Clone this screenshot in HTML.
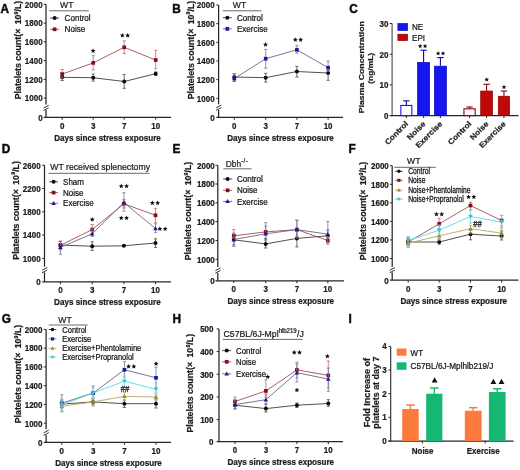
<!DOCTYPE html>
<html><head><meta charset="utf-8"><style>
html,body{margin:0;padding:0;background:#fff;overflow:hidden;}
svg{display:block;font-family:"Liberation Sans", sans-serif;}
</style></head><body>
<svg width="520" height="470" viewBox="0 0 520 470">
<rect width="520" height="470" fill="#fff"/>
<g style="will-change:transform">
<text transform="translate(0.60,13.20) scale(1,1.03)" font-size="11.8" font-weight="bold" text-anchor="start" fill="#0a0a0a" stroke="#0a0a0a" stroke-width="0.45">A</text>
<line x1="46.00" y1="4.30" x2="46.00" y2="104.50" stroke="#262626" stroke-width="1.25"/>
<line x1="46.00" y1="110.10" x2="46.00" y2="117.30" stroke="#262626" stroke-width="1.25"/>
<line x1="43.50" y1="108.10" x2="48.70" y2="105.30" stroke="#262626" stroke-width="0.95"/>
<line x1="43.50" y1="110.60" x2="48.70" y2="107.80" stroke="#262626" stroke-width="0.95"/>
<text transform="translate(42.60,120.60) scale(1,1.08)" font-size="8" font-weight="bold" text-anchor="end" fill="#1c1c1c" stroke="#1c1c1c" stroke-width="0.22">0</text>
<line x1="43.70" y1="98.10" x2="46.00" y2="98.10" stroke="#262626" stroke-width="1.0"/>
<text transform="translate(42.60,101.40) scale(1,1.08)" font-size="8" font-weight="bold" text-anchor="end" fill="#1c1c1c" stroke="#1c1c1c" stroke-width="0.22">1000</text>
<line x1="43.70" y1="79.34" x2="46.00" y2="79.34" stroke="#262626" stroke-width="1.0"/>
<text transform="translate(42.60,82.64) scale(1,1.08)" font-size="8" font-weight="bold" text-anchor="end" fill="#1c1c1c" stroke="#1c1c1c" stroke-width="0.22">1200</text>
<line x1="43.70" y1="60.58" x2="46.00" y2="60.58" stroke="#262626" stroke-width="1.0"/>
<text transform="translate(42.60,63.88) scale(1,1.08)" font-size="8" font-weight="bold" text-anchor="end" fill="#1c1c1c" stroke="#1c1c1c" stroke-width="0.22">1400</text>
<line x1="43.70" y1="41.82" x2="46.00" y2="41.82" stroke="#262626" stroke-width="1.0"/>
<text transform="translate(42.60,45.12) scale(1,1.08)" font-size="8" font-weight="bold" text-anchor="end" fill="#1c1c1c" stroke="#1c1c1c" stroke-width="0.22">1600</text>
<line x1="43.70" y1="23.06" x2="46.00" y2="23.06" stroke="#262626" stroke-width="1.0"/>
<text transform="translate(42.60,26.36) scale(1,1.08)" font-size="8" font-weight="bold" text-anchor="end" fill="#1c1c1c" stroke="#1c1c1c" stroke-width="0.22">1800</text>
<line x1="43.70" y1="4.30" x2="46.00" y2="4.30" stroke="#262626" stroke-width="1.0"/>
<text transform="translate(42.60,7.60) scale(1,1.08)" font-size="8" font-weight="bold" text-anchor="end" fill="#1c1c1c" stroke="#1c1c1c" stroke-width="0.22">2000</text>
<line x1="43.70" y1="117.30" x2="171.00" y2="117.30" stroke="#262626" stroke-width="1.25"/>
<line x1="62.20" y1="117.30" x2="62.20" y2="119.70" stroke="#262626" stroke-width="1.0"/>
<text transform="translate(62.20,128.60) scale(1,1.08)" font-size="8" font-weight="bold" text-anchor="middle" fill="#1c1c1c" stroke="#1c1c1c" stroke-width="0.22">0</text>
<line x1="93.20" y1="117.30" x2="93.20" y2="119.70" stroke="#262626" stroke-width="1.0"/>
<text transform="translate(93.20,128.60) scale(1,1.08)" font-size="8" font-weight="bold" text-anchor="middle" fill="#1c1c1c" stroke="#1c1c1c" stroke-width="0.22">3</text>
<line x1="124.20" y1="117.30" x2="124.20" y2="119.70" stroke="#262626" stroke-width="1.0"/>
<text transform="translate(124.20,128.60) scale(1,1.08)" font-size="8" font-weight="bold" text-anchor="middle" fill="#1c1c1c" stroke="#1c1c1c" stroke-width="0.22">7</text>
<line x1="155.70" y1="117.30" x2="155.70" y2="119.70" stroke="#262626" stroke-width="1.0"/>
<text transform="translate(155.70,128.60) scale(1,1.08)" font-size="8" font-weight="bold" text-anchor="middle" fill="#1c1c1c" stroke="#1c1c1c" stroke-width="0.22">10</text>
<text transform="translate(107.50,140.70) scale(1,1.08)" font-size="8.1" font-weight="bold" text-anchor="middle" fill="#1c1c1c" stroke="#1c1c1c" stroke-width="0.22">Days since stress exposure</text>
<text transform="translate(21.10,50.00) rotate(-90) scale(1.08,1)" font-size="8.15" font-weight="bold" text-anchor="middle" fill="#1c1c1c" stroke="#1c1c1c" stroke-width="0.22">Platelets count(× <tspan dx="1.8">10</tspan><tspan font-size="4.9" dy="-3.3" dx="0.2">9</tspan><tspan dy="3.3">/L)</tspan></text>
<line x1="49.30" y1="10.80" x2="88.80" y2="10.80" stroke="#6a6a6a" stroke-width="1.0"/>
<text transform="translate(66.70,7.70) scale(1,1.12)" font-size="8.6" font-weight="normal" text-anchor="middle" fill="#1a1a1a" stroke="#1a1a1a" stroke-width="0.22">WT</text>
<line x1="50.10" y1="18.10" x2="59.10" y2="18.10" stroke="#3c3c3c" stroke-width="0.9"/>
<circle cx="54.60" cy="18.10" r="2.00" fill="#0d0d0d"/>
<text transform="translate(64.60,21.20) scale(1,1.13)" font-size="8.1" font-weight="normal" text-anchor="start" fill="#151515" stroke="#151515" stroke-width="0.22">Control</text>
<line x1="50.10" y1="29.30" x2="59.10" y2="29.30" stroke="#a24c56" stroke-width="0.9"/>
<rect x="52.75" y="27.45" width="3.70" height="3.70" fill="#8a0c16"/>
<text transform="translate(64.60,32.40) scale(1,1.13)" font-size="8.1" font-weight="normal" text-anchor="start" fill="#151515" stroke="#151515" stroke-width="0.22">Noise</text>
<polyline points="62.20,77.30 93.20,77.70 124.20,81.50 155.70,73.70" fill="none" stroke="#3c3c3c" stroke-width="0.9" stroke-linejoin="round"/>
<line x1="62.20" y1="74.00" x2="62.20" y2="80.50" stroke="#4a4a4a" stroke-width="0.8"/>
<line x1="60.60" y1="74.00" x2="63.80" y2="74.00" stroke="#4a4a4a" stroke-width="0.8"/>
<line x1="60.60" y1="80.50" x2="63.80" y2="80.50" stroke="#4a4a4a" stroke-width="0.8"/>
<line x1="93.20" y1="74.10" x2="93.20" y2="81.10" stroke="#4a4a4a" stroke-width="0.8"/>
<line x1="91.60" y1="74.10" x2="94.80" y2="74.10" stroke="#4a4a4a" stroke-width="0.8"/>
<line x1="91.60" y1="81.10" x2="94.80" y2="81.10" stroke="#4a4a4a" stroke-width="0.8"/>
<line x1="124.20" y1="74.60" x2="124.20" y2="88.30" stroke="#4a4a4a" stroke-width="0.8"/>
<line x1="122.60" y1="74.60" x2="125.80" y2="74.60" stroke="#4a4a4a" stroke-width="0.8"/>
<line x1="122.60" y1="88.30" x2="125.80" y2="88.30" stroke="#4a4a4a" stroke-width="0.8"/>
<line x1="155.70" y1="72.00" x2="155.70" y2="75.50" stroke="#4a4a4a" stroke-width="0.8"/>
<line x1="154.10" y1="72.00" x2="157.30" y2="72.00" stroke="#4a4a4a" stroke-width="0.8"/>
<line x1="154.10" y1="75.50" x2="157.30" y2="75.50" stroke="#4a4a4a" stroke-width="0.8"/>
<circle cx="62.20" cy="77.30" r="2.00" fill="#0d0d0d"/>
<circle cx="93.20" cy="77.70" r="2.00" fill="#0d0d0d"/>
<circle cx="124.20" cy="81.50" r="2.00" fill="#0d0d0d"/>
<circle cx="155.70" cy="73.70" r="2.00" fill="#0d0d0d"/>
<polyline points="62.20,74.10 93.20,62.90 124.20,47.30 155.70,60.00" fill="none" stroke="#a24c56" stroke-width="0.9" stroke-linejoin="round"/>
<line x1="62.20" y1="69.50" x2="62.20" y2="78.00" stroke="#b86a74" stroke-width="0.8"/>
<line x1="60.60" y1="69.50" x2="63.80" y2="69.50" stroke="#b86a74" stroke-width="0.8"/>
<line x1="60.60" y1="78.00" x2="63.80" y2="78.00" stroke="#b86a74" stroke-width="0.8"/>
<line x1="93.20" y1="55.70" x2="93.20" y2="69.90" stroke="#b86a74" stroke-width="0.8"/>
<line x1="91.60" y1="55.70" x2="94.80" y2="55.70" stroke="#b86a74" stroke-width="0.8"/>
<line x1="91.60" y1="69.90" x2="94.80" y2="69.90" stroke="#b86a74" stroke-width="0.8"/>
<line x1="124.20" y1="40.90" x2="124.20" y2="53.60" stroke="#b86a74" stroke-width="0.8"/>
<line x1="122.60" y1="40.90" x2="125.80" y2="40.90" stroke="#b86a74" stroke-width="0.8"/>
<line x1="122.60" y1="53.60" x2="125.80" y2="53.60" stroke="#b86a74" stroke-width="0.8"/>
<line x1="155.70" y1="50.40" x2="155.70" y2="68.80" stroke="#b86a74" stroke-width="0.8"/>
<line x1="154.10" y1="50.40" x2="157.30" y2="50.40" stroke="#b86a74" stroke-width="0.8"/>
<line x1="154.10" y1="68.80" x2="157.30" y2="68.80" stroke="#b86a74" stroke-width="0.8"/>
<rect x="60.35" y="72.25" width="3.70" height="3.70" fill="#8a0c16"/>
<rect x="91.35" y="61.05" width="3.70" height="3.70" fill="#8a0c16"/>
<rect x="122.35" y="45.45" width="3.70" height="3.70" fill="#8a0c16"/>
<rect x="153.85" y="58.15" width="3.70" height="3.70" fill="#8a0c16"/>
<polygon points="93.10,48.30 93.80,49.88 95.53,50.06 94.24,51.22 94.60,52.91 93.10,52.05 91.60,52.91 91.96,51.22 90.67,50.06 92.40,49.88" fill="#111"/>
<polygon points="122.35,32.90 123.05,34.48 124.78,34.66 123.49,35.82 123.85,37.51 122.35,36.65 120.85,37.51 121.21,35.82 119.92,34.66 121.65,34.48" fill="#111"/>
<polygon points="127.65,32.90 128.35,34.48 130.08,34.66 128.79,35.82 129.15,37.51 127.65,36.65 126.15,37.51 126.51,35.82 125.22,34.66 126.95,34.48" fill="#111"/>
<text transform="translate(172.30,13.20) scale(1,1.03)" font-size="11.8" font-weight="bold" text-anchor="start" fill="#0a0a0a" stroke="#0a0a0a" stroke-width="0.45">B</text>
<line x1="218.60" y1="5.00" x2="218.60" y2="104.30" stroke="#262626" stroke-width="1.25"/>
<line x1="218.60" y1="109.90" x2="218.60" y2="117.40" stroke="#262626" stroke-width="1.25"/>
<line x1="216.10" y1="107.90" x2="221.30" y2="105.10" stroke="#262626" stroke-width="0.95"/>
<line x1="216.10" y1="110.40" x2="221.30" y2="107.60" stroke="#262626" stroke-width="0.95"/>
<text transform="translate(214.60,120.70) scale(1,1.08)" font-size="8" font-weight="bold" text-anchor="end" fill="#1c1c1c" stroke="#1c1c1c" stroke-width="0.22">0</text>
<line x1="216.30" y1="98.30" x2="218.60" y2="98.30" stroke="#262626" stroke-width="1.0"/>
<text transform="translate(214.60,101.60) scale(1,1.08)" font-size="8" font-weight="bold" text-anchor="end" fill="#1c1c1c" stroke="#1c1c1c" stroke-width="0.22">1000</text>
<line x1="216.30" y1="79.64" x2="218.60" y2="79.64" stroke="#262626" stroke-width="1.0"/>
<text transform="translate(214.60,82.94) scale(1,1.08)" font-size="8" font-weight="bold" text-anchor="end" fill="#1c1c1c" stroke="#1c1c1c" stroke-width="0.22">1200</text>
<line x1="216.30" y1="60.98" x2="218.60" y2="60.98" stroke="#262626" stroke-width="1.0"/>
<text transform="translate(214.60,64.28) scale(1,1.08)" font-size="8" font-weight="bold" text-anchor="end" fill="#1c1c1c" stroke="#1c1c1c" stroke-width="0.22">1400</text>
<line x1="216.30" y1="42.32" x2="218.60" y2="42.32" stroke="#262626" stroke-width="1.0"/>
<text transform="translate(214.60,45.62) scale(1,1.08)" font-size="8" font-weight="bold" text-anchor="end" fill="#1c1c1c" stroke="#1c1c1c" stroke-width="0.22">1600</text>
<line x1="216.30" y1="23.66" x2="218.60" y2="23.66" stroke="#262626" stroke-width="1.0"/>
<text transform="translate(214.60,26.96) scale(1,1.08)" font-size="8" font-weight="bold" text-anchor="end" fill="#1c1c1c" stroke="#1c1c1c" stroke-width="0.22">1800</text>
<line x1="216.30" y1="5.00" x2="218.60" y2="5.00" stroke="#262626" stroke-width="1.0"/>
<text transform="translate(214.60,8.30) scale(1,1.08)" font-size="8" font-weight="bold" text-anchor="end" fill="#1c1c1c" stroke="#1c1c1c" stroke-width="0.22">2000</text>
<line x1="216.30" y1="117.40" x2="343.00" y2="117.40" stroke="#262626" stroke-width="1.25"/>
<line x1="234.30" y1="117.40" x2="234.30" y2="119.80" stroke="#262626" stroke-width="1.0"/>
<text transform="translate(234.30,128.70) scale(1,1.08)" font-size="8" font-weight="bold" text-anchor="middle" fill="#1c1c1c" stroke="#1c1c1c" stroke-width="0.22">0</text>
<line x1="265.70" y1="117.40" x2="265.70" y2="119.80" stroke="#262626" stroke-width="1.0"/>
<text transform="translate(265.70,128.70) scale(1,1.08)" font-size="8" font-weight="bold" text-anchor="middle" fill="#1c1c1c" stroke="#1c1c1c" stroke-width="0.22">3</text>
<line x1="296.90" y1="117.40" x2="296.90" y2="119.80" stroke="#262626" stroke-width="1.0"/>
<text transform="translate(296.90,128.70) scale(1,1.08)" font-size="8" font-weight="bold" text-anchor="middle" fill="#1c1c1c" stroke="#1c1c1c" stroke-width="0.22">7</text>
<line x1="328.10" y1="117.40" x2="328.10" y2="119.80" stroke="#262626" stroke-width="1.0"/>
<text transform="translate(328.10,128.70) scale(1,1.08)" font-size="8" font-weight="bold" text-anchor="middle" fill="#1c1c1c" stroke="#1c1c1c" stroke-width="0.22">10</text>
<text transform="translate(280.50,140.90) scale(1,1.08)" font-size="8.1" font-weight="bold" text-anchor="middle" fill="#1c1c1c" stroke="#1c1c1c" stroke-width="0.22">Days since stress exposure</text>
<text transform="translate(193.60,50.00) rotate(-90) scale(1.08,1)" font-size="8.15" font-weight="bold" text-anchor="middle" fill="#1c1c1c" stroke="#1c1c1c" stroke-width="0.22">Platelets count(× <tspan dx="1.8">10</tspan><tspan font-size="4.9" dy="-3.3" dx="0.2">9</tspan><tspan dy="3.3">/L)</tspan></text>
<line x1="222.70" y1="10.80" x2="261.50" y2="10.80" stroke="#6a6a6a" stroke-width="1.0"/>
<text transform="translate(239.50,7.70) scale(1,1.12)" font-size="8.6" font-weight="normal" text-anchor="middle" fill="#1a1a1a" stroke="#1a1a1a" stroke-width="0.22">WT</text>
<line x1="222.80" y1="17.70" x2="231.80" y2="17.70" stroke="#3c3c3c" stroke-width="0.9"/>
<circle cx="227.30" cy="17.70" r="2.00" fill="#0d0d0d"/>
<text transform="translate(237.00,20.80) scale(1,1.13)" font-size="8.0" font-weight="normal" text-anchor="start" fill="#151515" stroke="#151515" stroke-width="0.22">Control</text>
<line x1="222.80" y1="28.90" x2="231.80" y2="28.90" stroke="#66668e" stroke-width="0.9"/>
<rect x="225.45" y="27.05" width="3.70" height="3.70" fill="#1a1aa0"/>
<text transform="translate(237.00,32.00) scale(1,1.13)" font-size="8.0" font-weight="normal" text-anchor="start" fill="#151515" stroke="#151515" stroke-width="0.22">Exercise</text>
<polyline points="234.30,77.00 265.70,77.70 296.90,71.50 328.10,73.00" fill="none" stroke="#3c3c3c" stroke-width="0.9" stroke-linejoin="round"/>
<line x1="234.30" y1="73.70" x2="234.30" y2="81.40" stroke="#4a4a4a" stroke-width="0.8"/>
<line x1="232.70" y1="73.70" x2="235.90" y2="73.70" stroke="#4a4a4a" stroke-width="0.8"/>
<line x1="232.70" y1="81.40" x2="235.90" y2="81.40" stroke="#4a4a4a" stroke-width="0.8"/>
<line x1="265.70" y1="73.30" x2="265.70" y2="82.10" stroke="#4a4a4a" stroke-width="0.8"/>
<line x1="264.10" y1="73.30" x2="267.30" y2="73.30" stroke="#4a4a4a" stroke-width="0.8"/>
<line x1="264.10" y1="82.10" x2="267.30" y2="82.10" stroke="#4a4a4a" stroke-width="0.8"/>
<line x1="296.90" y1="66.40" x2="296.90" y2="77.00" stroke="#4a4a4a" stroke-width="0.8"/>
<line x1="295.30" y1="66.40" x2="298.50" y2="66.40" stroke="#4a4a4a" stroke-width="0.8"/>
<line x1="295.30" y1="77.00" x2="298.50" y2="77.00" stroke="#4a4a4a" stroke-width="0.8"/>
<line x1="328.10" y1="70.40" x2="328.10" y2="80.30" stroke="#4a4a4a" stroke-width="0.8"/>
<line x1="326.50" y1="70.40" x2="329.70" y2="70.40" stroke="#4a4a4a" stroke-width="0.8"/>
<line x1="326.50" y1="80.30" x2="329.70" y2="80.30" stroke="#4a4a4a" stroke-width="0.8"/>
<circle cx="234.30" cy="77.00" r="2.00" fill="#0d0d0d"/>
<circle cx="265.70" cy="77.70" r="2.00" fill="#0d0d0d"/>
<circle cx="296.90" cy="71.50" r="2.00" fill="#0d0d0d"/>
<circle cx="328.10" cy="73.00" r="2.00" fill="#0d0d0d"/>
<polyline points="234.30,78.60 265.70,58.70 296.90,49.80 328.10,67.70" fill="none" stroke="#66668e" stroke-width="0.9" stroke-linejoin="round"/>
<line x1="234.30" y1="73.70" x2="234.30" y2="81.40" stroke="#7676a8" stroke-width="0.8"/>
<line x1="232.70" y1="73.70" x2="235.90" y2="73.70" stroke="#7676a8" stroke-width="0.8"/>
<line x1="232.70" y1="81.40" x2="235.90" y2="81.40" stroke="#7676a8" stroke-width="0.8"/>
<line x1="265.70" y1="49.40" x2="265.70" y2="68.20" stroke="#7676a8" stroke-width="0.8"/>
<line x1="264.10" y1="49.40" x2="267.30" y2="49.40" stroke="#7676a8" stroke-width="0.8"/>
<line x1="264.10" y1="68.20" x2="267.30" y2="68.20" stroke="#7676a8" stroke-width="0.8"/>
<line x1="296.90" y1="45.40" x2="296.90" y2="53.10" stroke="#7676a8" stroke-width="0.8"/>
<line x1="295.30" y1="45.40" x2="298.50" y2="45.40" stroke="#7676a8" stroke-width="0.8"/>
<line x1="295.30" y1="53.10" x2="298.50" y2="53.10" stroke="#7676a8" stroke-width="0.8"/>
<line x1="328.10" y1="61.10" x2="328.10" y2="71.50" stroke="#7676a8" stroke-width="0.8"/>
<line x1="326.50" y1="61.10" x2="329.70" y2="61.10" stroke="#7676a8" stroke-width="0.8"/>
<line x1="326.50" y1="71.50" x2="329.70" y2="71.50" stroke="#7676a8" stroke-width="0.8"/>
<rect x="232.45" y="76.75" width="3.70" height="3.70" fill="#1a1aa0"/>
<rect x="263.85" y="56.85" width="3.70" height="3.70" fill="#1a1aa0"/>
<rect x="295.05" y="47.95" width="3.70" height="3.70" fill="#1a1aa0"/>
<rect x="326.25" y="65.85" width="3.70" height="3.70" fill="#1a1aa0"/>
<polygon points="265.50,42.10 266.20,43.68 267.93,43.86 266.64,45.02 267.00,46.71 265.50,45.85 264.00,46.71 264.36,45.02 263.07,43.86 264.80,43.68" fill="#111"/>
<polygon points="295.35,37.20 296.05,38.78 297.78,38.96 296.49,40.12 296.85,41.81 295.35,40.95 293.85,41.81 294.21,40.12 292.92,38.96 294.65,38.78" fill="#111"/>
<polygon points="300.65,37.20 301.35,38.78 303.08,38.96 301.79,40.12 302.15,41.81 300.65,40.95 299.15,41.81 299.51,40.12 298.22,38.96 299.95,38.78" fill="#111"/>
<text transform="translate(349.20,13.20) scale(1,1.03)" font-size="11.8" font-weight="bold" text-anchor="start" fill="#0a0a0a" stroke="#0a0a0a" stroke-width="0.45">C</text>
<line x1="392.10" y1="23.50" x2="392.10" y2="115.60" stroke="#4a4a4a" stroke-width="1.1"/>
<line x1="389.80" y1="115.60" x2="392.10" y2="115.60" stroke="#262626" stroke-width="1.0"/>
<text transform="translate(388.50,118.90) scale(1,1.08)" font-size="8" font-weight="bold" text-anchor="end" fill="#1c1c1c" stroke="#1c1c1c" stroke-width="0.22">0</text>
<line x1="389.80" y1="84.90" x2="392.10" y2="84.90" stroke="#262626" stroke-width="1.0"/>
<text transform="translate(388.50,88.20) scale(1,1.08)" font-size="8" font-weight="bold" text-anchor="end" fill="#1c1c1c" stroke="#1c1c1c" stroke-width="0.22">10</text>
<line x1="389.80" y1="54.20" x2="392.10" y2="54.20" stroke="#262626" stroke-width="1.0"/>
<text transform="translate(388.50,57.50) scale(1,1.08)" font-size="8" font-weight="bold" text-anchor="end" fill="#1c1c1c" stroke="#1c1c1c" stroke-width="0.22">20</text>
<line x1="389.80" y1="23.50" x2="392.10" y2="23.50" stroke="#262626" stroke-width="1.0"/>
<text transform="translate(388.50,26.80) scale(1,1.08)" font-size="8" font-weight="bold" text-anchor="end" fill="#1c1c1c" stroke="#1c1c1c" stroke-width="0.22">30</text>
<line x1="389.80" y1="115.60" x2="518.50" y2="115.60" stroke="#262626" stroke-width="1.1"/>
<text transform="translate(364.00,67.20) rotate(-90) scale(1.08,1)" font-size="8.1" font-weight="bold" text-anchor="middle" fill="#1c1c1c" stroke="#1c1c1c" stroke-width="0.22">Plasma Concentration</text>
<text transform="translate(373.00,68.30) rotate(-90) scale(1.08,1)" font-size="7.8" font-weight="bold" text-anchor="middle" fill="#1c1c1c" stroke="#1c1c1c" stroke-width="0.22">(ng/mL)</text>
<rect x="397.90" y="23.60" width="9.60" height="6.90" fill="#1515ee" stroke="#0606b8" stroke-width="0.7"/>
<rect x="397.90" y="34.20" width="9.60" height="6.40" fill="#c00808" stroke="#900000" stroke-width="0.7"/>
<text transform="translate(412.00,30.00) scale(1,1.1)" font-size="8.1" font-weight="normal" text-anchor="start" fill="#151515" stroke="#151515" stroke-width="0.22">NE</text>
<text transform="translate(412.00,40.60) scale(1,1.1)" font-size="8.1" font-weight="normal" text-anchor="start" fill="#151515" stroke="#151515" stroke-width="0.22">EPI</text>
<line x1="406.35" y1="100.86" x2="406.35" y2="105.16" stroke="#0606b8" stroke-width="1.1"/>
<line x1="403.15" y1="100.86" x2="409.55" y2="100.86" stroke="#0606b8" stroke-width="1.1"/>
<rect x="400.85" y="105.46" width="11.00" height="10.14" fill="white" stroke="#1515ee" stroke-width="1.1"/>
<line x1="406.35" y1="115.60" x2="406.35" y2="118.00" stroke="#262626" stroke-width="1.0"/>
<line x1="423.60" y1="50.21" x2="423.60" y2="62.18" stroke="#0606b8" stroke-width="1.1"/>
<line x1="420.40" y1="50.21" x2="426.80" y2="50.21" stroke="#0606b8" stroke-width="1.1"/>
<rect x="417.60" y="62.48" width="12.00" height="53.12" fill="#1515ee" stroke="#0606b8" stroke-width="0.7"/>
<line x1="423.60" y1="115.60" x2="423.60" y2="118.00" stroke="#262626" stroke-width="1.0"/>
<line x1="440.40" y1="57.58" x2="440.40" y2="65.87" stroke="#0606b8" stroke-width="1.1"/>
<line x1="437.20" y1="57.58" x2="443.60" y2="57.58" stroke="#0606b8" stroke-width="1.1"/>
<rect x="434.40" y="66.17" width="12.00" height="49.43" fill="#1515ee" stroke="#0606b8" stroke-width="0.7"/>
<line x1="440.40" y1="115.60" x2="440.40" y2="118.00" stroke="#262626" stroke-width="1.0"/>
<line x1="469.55" y1="107.00" x2="469.55" y2="108.54" stroke="#900000" stroke-width="1.1"/>
<line x1="466.35" y1="107.00" x2="472.75" y2="107.00" stroke="#900000" stroke-width="1.1"/>
<rect x="463.95" y="108.84" width="11.20" height="6.76" fill="white" stroke="#900000" stroke-width="1.1"/>
<line x1="469.55" y1="115.60" x2="469.55" y2="118.00" stroke="#262626" stroke-width="1.0"/>
<line x1="486.60" y1="84.29" x2="486.60" y2="90.73" stroke="#900000" stroke-width="1.1"/>
<line x1="483.40" y1="84.29" x2="489.80" y2="84.29" stroke="#900000" stroke-width="1.1"/>
<rect x="480.70" y="91.03" width="11.80" height="24.57" fill="#c00808" stroke="#900000" stroke-width="0.7"/>
<line x1="486.60" y1="115.60" x2="486.60" y2="118.00" stroke="#262626" stroke-width="1.0"/>
<line x1="503.95" y1="91.04" x2="503.95" y2="95.95" stroke="#900000" stroke-width="1.1"/>
<line x1="500.75" y1="91.04" x2="507.15" y2="91.04" stroke="#900000" stroke-width="1.1"/>
<rect x="498.30" y="96.25" width="11.30" height="19.35" fill="#c00808" stroke="#900000" stroke-width="0.7"/>
<line x1="503.95" y1="115.60" x2="503.95" y2="118.00" stroke="#262626" stroke-width="1.0"/>
<text transform="translate(408.75,124.40) rotate(-45) scale(1.08,1)" font-size="7.7" font-weight="bold" text-anchor="end" fill="#1c1c1c" stroke="#1c1c1c" stroke-width="0.22">Control</text>
<text transform="translate(426.00,124.40) rotate(-45) scale(1.08,1)" font-size="7.7" font-weight="bold" text-anchor="end" fill="#1c1c1c" stroke="#1c1c1c" stroke-width="0.22">Noise</text>
<text transform="translate(442.80,124.40) rotate(-45) scale(1.08,1)" font-size="7.7" font-weight="bold" text-anchor="end" fill="#1c1c1c" stroke="#1c1c1c" stroke-width="0.22">Exercise</text>
<text transform="translate(471.90,124.40) rotate(-45) scale(1.08,1)" font-size="7.7" font-weight="bold" text-anchor="end" fill="#1c1c1c" stroke="#1c1c1c" stroke-width="0.22">Control</text>
<text transform="translate(489.00,124.40) rotate(-45) scale(1.08,1)" font-size="7.7" font-weight="bold" text-anchor="end" fill="#1c1c1c" stroke="#1c1c1c" stroke-width="0.22">Noise</text>
<text transform="translate(506.30,124.40) rotate(-45) scale(1.08,1)" font-size="7.7" font-weight="bold" text-anchor="end" fill="#1c1c1c" stroke="#1c1c1c" stroke-width="0.22">Exercise</text>
<polygon points="420.15,43.85 420.79,45.28 422.34,45.44 421.18,46.48 421.50,48.01 420.15,47.23 418.80,48.01 419.12,46.48 417.96,45.44 419.51,45.28" fill="#111"/>
<polygon points="425.05,43.85 425.69,45.28 427.24,45.44 426.08,46.48 426.40,48.01 425.05,47.23 423.70,48.01 424.02,46.48 422.86,45.44 424.41,45.28" fill="#111"/>
<polygon points="438.15,51.15 438.79,52.58 440.34,52.74 439.18,53.78 439.50,55.31 438.15,54.53 436.80,55.31 437.12,53.78 435.96,52.74 437.51,52.58" fill="#111"/>
<polygon points="443.05,51.15 443.69,52.58 445.24,52.74 444.08,53.78 444.40,55.31 443.05,54.53 441.70,55.31 442.02,53.78 440.86,52.74 442.41,52.58" fill="#111"/>
<polygon points="486.70,77.15 487.36,78.64 488.98,78.81 487.77,79.90 488.11,81.49 486.70,80.68 485.29,81.49 485.63,79.90 484.42,78.81 486.04,78.64" fill="#111"/>
<polygon points="504.00,84.65 504.66,86.14 506.28,86.31 505.07,87.40 505.41,88.99 504.00,88.18 502.59,88.99 502.93,87.40 501.72,86.31 503.34,86.14" fill="#111"/>
<text transform="translate(1.70,152.90) scale(1,1.03)" font-size="11.8" font-weight="bold" text-anchor="start" fill="#0a0a0a" stroke="#0a0a0a" stroke-width="0.45">D</text>
<line x1="44.50" y1="165.20" x2="44.50" y2="266.70" stroke="#262626" stroke-width="1.25"/>
<line x1="44.50" y1="272.30" x2="44.50" y2="281.80" stroke="#262626" stroke-width="1.25"/>
<line x1="42.00" y1="270.30" x2="47.20" y2="267.50" stroke="#262626" stroke-width="0.95"/>
<line x1="42.00" y1="272.80" x2="47.20" y2="270.00" stroke="#262626" stroke-width="0.95"/>
<text transform="translate(40.60,285.10) scale(1,1.08)" font-size="8" font-weight="bold" text-anchor="end" fill="#1c1c1c" stroke="#1c1c1c" stroke-width="0.22">0</text>
<line x1="42.20" y1="258.40" x2="44.50" y2="258.40" stroke="#262626" stroke-width="1.0"/>
<text transform="translate(40.60,261.70) scale(1,1.08)" font-size="8" font-weight="bold" text-anchor="end" fill="#1c1c1c" stroke="#1c1c1c" stroke-width="0.22">1000</text>
<line x1="42.20" y1="235.10" x2="44.50" y2="235.10" stroke="#262626" stroke-width="1.0"/>
<text transform="translate(40.60,238.40) scale(1,1.08)" font-size="8" font-weight="bold" text-anchor="end" fill="#1c1c1c" stroke="#1c1c1c" stroke-width="0.22">1400</text>
<line x1="42.20" y1="211.80" x2="44.50" y2="211.80" stroke="#262626" stroke-width="1.0"/>
<text transform="translate(40.60,215.10) scale(1,1.08)" font-size="8" font-weight="bold" text-anchor="end" fill="#1c1c1c" stroke="#1c1c1c" stroke-width="0.22">1800</text>
<line x1="42.20" y1="188.50" x2="44.50" y2="188.50" stroke="#262626" stroke-width="1.0"/>
<text transform="translate(40.60,191.80) scale(1,1.08)" font-size="8" font-weight="bold" text-anchor="end" fill="#1c1c1c" stroke="#1c1c1c" stroke-width="0.22">2200</text>
<line x1="42.20" y1="165.20" x2="44.50" y2="165.20" stroke="#262626" stroke-width="1.0"/>
<text transform="translate(40.60,168.50) scale(1,1.08)" font-size="8" font-weight="bold" text-anchor="end" fill="#1c1c1c" stroke="#1c1c1c" stroke-width="0.22">2600</text>
<line x1="42.20" y1="281.80" x2="171.00" y2="281.80" stroke="#262626" stroke-width="1.25"/>
<line x1="60.40" y1="281.80" x2="60.40" y2="284.20" stroke="#262626" stroke-width="1.0"/>
<text transform="translate(60.40,293.10) scale(1,1.08)" font-size="8" font-weight="bold" text-anchor="middle" fill="#1c1c1c" stroke="#1c1c1c" stroke-width="0.22">0</text>
<line x1="92.20" y1="281.80" x2="92.20" y2="284.20" stroke="#262626" stroke-width="1.0"/>
<text transform="translate(92.20,293.10) scale(1,1.08)" font-size="8" font-weight="bold" text-anchor="middle" fill="#1c1c1c" stroke="#1c1c1c" stroke-width="0.22">3</text>
<line x1="123.90" y1="281.80" x2="123.90" y2="284.20" stroke="#262626" stroke-width="1.0"/>
<text transform="translate(123.90,293.10) scale(1,1.08)" font-size="8" font-weight="bold" text-anchor="middle" fill="#1c1c1c" stroke="#1c1c1c" stroke-width="0.22">7</text>
<line x1="155.50" y1="281.80" x2="155.50" y2="284.20" stroke="#262626" stroke-width="1.0"/>
<text transform="translate(155.50,293.10) scale(1,1.08)" font-size="8" font-weight="bold" text-anchor="middle" fill="#1c1c1c" stroke="#1c1c1c" stroke-width="0.22">10</text>
<text transform="translate(107.40,304.70) scale(1,1.08)" font-size="8.1" font-weight="bold" text-anchor="middle" fill="#1c1c1c" stroke="#1c1c1c" stroke-width="0.22">Days since stress exposure</text>
<text transform="translate(18.50,210.40) rotate(-90) scale(1.08,1)" font-size="8.15" font-weight="bold" text-anchor="middle" fill="#1c1c1c" stroke="#1c1c1c" stroke-width="0.22">Platelets count(× <tspan dx="1.8">10</tspan><tspan font-size="4.9" dy="-3.3" dx="0.2">9</tspan><tspan dy="3.3">/L)</tspan></text>
<line x1="48.50" y1="173.30" x2="149.50" y2="173.30" stroke="#6a6a6a" stroke-width="1.0"/>
<text transform="translate(100.10,170.10) scale(1,1.12)" font-size="8.7" font-weight="normal" text-anchor="middle" fill="#1a1a1a" stroke="#1a1a1a" stroke-width="0.22">WT received splenectomy</text>
<line x1="49.10" y1="181.80" x2="58.10" y2="181.80" stroke="#3c3c3c" stroke-width="0.9"/>
<circle cx="53.60" cy="181.80" r="2.00" fill="#0d0d0d"/>
<text transform="translate(63.10,184.90) scale(1,1.13)" font-size="8.0" font-weight="normal" text-anchor="start" fill="#151515" stroke="#151515" stroke-width="0.22">Sham</text>
<line x1="49.10" y1="192.60" x2="58.10" y2="192.60" stroke="#a24c56" stroke-width="0.9"/>
<rect x="51.75" y="190.75" width="3.70" height="3.70" fill="#8a0c16"/>
<text transform="translate(63.10,195.70) scale(1,1.13)" font-size="8.0" font-weight="normal" text-anchor="start" fill="#151515" stroke="#151515" stroke-width="0.22">Noise</text>
<line x1="49.10" y1="203.30" x2="58.10" y2="203.30" stroke="#66668e" stroke-width="0.9"/>
<polygon points="53.60,201.00 55.90,205.03 51.30,205.03" fill="#1a1aa0"/>
<text transform="translate(63.10,206.40) scale(1,1.13)" font-size="8.0" font-weight="normal" text-anchor="start" fill="#151515" stroke="#151515" stroke-width="0.22">Exercise</text>
<polyline points="60.40,245.10 92.20,246.20 123.90,245.80 155.50,243.00" fill="none" stroke="#3c3c3c" stroke-width="0.9" stroke-linejoin="round"/>
<line x1="60.40" y1="241.50" x2="60.40" y2="249.00" stroke="#4a4a4a" stroke-width="0.8"/>
<line x1="58.80" y1="241.50" x2="62.00" y2="241.50" stroke="#4a4a4a" stroke-width="0.8"/>
<line x1="58.80" y1="249.00" x2="62.00" y2="249.00" stroke="#4a4a4a" stroke-width="0.8"/>
<line x1="92.20" y1="241.80" x2="92.20" y2="250.40" stroke="#4a4a4a" stroke-width="0.8"/>
<line x1="90.60" y1="241.80" x2="93.80" y2="241.80" stroke="#4a4a4a" stroke-width="0.8"/>
<line x1="90.60" y1="250.40" x2="93.80" y2="250.40" stroke="#4a4a4a" stroke-width="0.8"/>
<line x1="155.50" y1="238.80" x2="155.50" y2="247.40" stroke="#4a4a4a" stroke-width="0.8"/>
<line x1="153.90" y1="238.80" x2="157.10" y2="238.80" stroke="#4a4a4a" stroke-width="0.8"/>
<line x1="153.90" y1="247.40" x2="157.10" y2="247.40" stroke="#4a4a4a" stroke-width="0.8"/>
<circle cx="60.40" cy="245.10" r="2.00" fill="#0d0d0d"/>
<circle cx="92.20" cy="246.20" r="2.00" fill="#0d0d0d"/>
<circle cx="123.90" cy="245.80" r="2.00" fill="#0d0d0d"/>
<circle cx="155.50" cy="243.00" r="2.00" fill="#0d0d0d"/>
<polyline points="60.40,245.30 92.20,229.60 123.90,203.80 155.50,215.30" fill="none" stroke="#a24c56" stroke-width="0.9" stroke-linejoin="round"/>
<line x1="60.40" y1="241.20" x2="60.40" y2="250.00" stroke="#b86a74" stroke-width="0.8"/>
<line x1="58.80" y1="241.20" x2="62.00" y2="241.20" stroke="#b86a74" stroke-width="0.8"/>
<line x1="58.80" y1="250.00" x2="62.00" y2="250.00" stroke="#b86a74" stroke-width="0.8"/>
<line x1="92.20" y1="224.50" x2="92.20" y2="234.00" stroke="#b86a74" stroke-width="0.8"/>
<line x1="90.60" y1="224.50" x2="93.80" y2="224.50" stroke="#b86a74" stroke-width="0.8"/>
<line x1="90.60" y1="234.00" x2="93.80" y2="234.00" stroke="#b86a74" stroke-width="0.8"/>
<line x1="123.90" y1="199.60" x2="123.90" y2="211.20" stroke="#b86a74" stroke-width="0.8"/>
<line x1="122.30" y1="199.60" x2="125.50" y2="199.60" stroke="#b86a74" stroke-width="0.8"/>
<line x1="122.30" y1="211.20" x2="125.50" y2="211.20" stroke="#b86a74" stroke-width="0.8"/>
<line x1="155.50" y1="208.40" x2="155.50" y2="222.70" stroke="#b86a74" stroke-width="0.8"/>
<line x1="153.90" y1="208.40" x2="157.10" y2="208.40" stroke="#b86a74" stroke-width="0.8"/>
<line x1="153.90" y1="222.70" x2="157.10" y2="222.70" stroke="#b86a74" stroke-width="0.8"/>
<rect x="58.55" y="243.45" width="3.70" height="3.70" fill="#8a0c16"/>
<rect x="90.35" y="227.75" width="3.70" height="3.70" fill="#8a0c16"/>
<rect x="122.05" y="201.95" width="3.70" height="3.70" fill="#8a0c16"/>
<rect x="153.65" y="213.45" width="3.70" height="3.70" fill="#8a0c16"/>
<polyline points="60.40,247.40 92.20,233.80 123.90,202.60 155.50,228.50" fill="none" stroke="#66668e" stroke-width="0.9" stroke-linejoin="round"/>
<line x1="60.40" y1="241.20" x2="60.40" y2="254.30" stroke="#7676a8" stroke-width="0.8"/>
<line x1="58.80" y1="241.20" x2="62.00" y2="241.20" stroke="#7676a8" stroke-width="0.8"/>
<line x1="58.80" y1="254.30" x2="62.00" y2="254.30" stroke="#7676a8" stroke-width="0.8"/>
<line x1="92.20" y1="229.00" x2="92.20" y2="236.50" stroke="#7676a8" stroke-width="0.8"/>
<line x1="90.60" y1="229.00" x2="93.80" y2="229.00" stroke="#7676a8" stroke-width="0.8"/>
<line x1="90.60" y1="236.50" x2="93.80" y2="236.50" stroke="#7676a8" stroke-width="0.8"/>
<line x1="123.90" y1="192.70" x2="123.90" y2="208.00" stroke="#7676a8" stroke-width="0.8"/>
<line x1="122.30" y1="192.70" x2="125.50" y2="192.70" stroke="#7676a8" stroke-width="0.8"/>
<line x1="122.30" y1="208.00" x2="125.50" y2="208.00" stroke="#7676a8" stroke-width="0.8"/>
<line x1="155.50" y1="223.80" x2="155.50" y2="232.60" stroke="#7676a8" stroke-width="0.8"/>
<line x1="153.90" y1="223.80" x2="157.10" y2="223.80" stroke="#7676a8" stroke-width="0.8"/>
<line x1="153.90" y1="232.60" x2="157.10" y2="232.60" stroke="#7676a8" stroke-width="0.8"/>
<polygon points="60.40,245.10 62.70,249.12 58.10,249.12" fill="#1a1aa0"/>
<polygon points="92.20,231.50 94.50,235.53 89.90,235.53" fill="#1a1aa0"/>
<polygon points="123.90,200.30 126.20,204.32 121.60,204.32" fill="#1a1aa0"/>
<polygon points="155.50,226.20 157.80,230.22 153.20,230.22" fill="#1a1aa0"/>
<polygon points="92.20,217.00 92.90,218.58 94.63,218.76 93.34,219.92 93.70,221.61 92.20,220.75 90.70,221.61 91.06,219.92 89.77,218.76 91.50,218.58" fill="#111"/>
<polygon points="121.25,183.60 121.95,185.18 123.68,185.36 122.39,186.52 122.75,188.21 121.25,187.35 119.75,188.21 120.11,186.52 118.82,185.36 120.55,185.18" fill="#111"/>
<polygon points="126.55,183.60 127.25,185.18 128.98,185.36 127.69,186.52 128.05,188.21 126.55,187.35 125.05,188.21 125.41,186.52 124.12,185.36 125.85,185.18" fill="#111"/>
<polygon points="121.25,215.40 121.95,216.98 123.68,217.16 122.39,218.32 122.75,220.01 121.25,219.15 119.75,220.01 120.11,218.32 118.82,217.16 120.55,216.98" fill="#111"/>
<polygon points="126.55,215.40 127.25,216.98 128.98,217.16 127.69,218.32 128.05,220.01 126.55,219.15 125.05,220.01 125.41,218.32 124.12,217.16 125.85,216.98" fill="#111"/>
<polygon points="152.35,200.40 153.05,201.98 154.78,202.16 153.49,203.32 153.85,205.01 152.35,204.15 150.85,205.01 151.21,203.32 149.92,202.16 151.65,201.98" fill="#111"/>
<polygon points="157.65,200.40 158.35,201.98 160.08,202.16 158.79,203.32 159.15,205.01 157.65,204.15 156.15,205.01 156.51,203.32 155.22,202.16 156.95,201.98" fill="#111"/>
<polygon points="159.85,226.30 160.55,227.88 162.28,228.06 160.99,229.22 161.35,230.91 159.85,230.05 158.35,230.91 158.71,229.22 157.42,228.06 159.15,227.88" fill="#111"/>
<polygon points="165.15,226.30 165.85,227.88 167.58,228.06 166.29,229.22 166.65,230.91 165.15,230.05 163.65,230.91 164.01,229.22 162.72,228.06 164.45,227.88" fill="#111"/>
<text transform="translate(172.50,152.90) scale(1,1.03)" font-size="11.8" font-weight="bold" text-anchor="start" fill="#0a0a0a" stroke="#0a0a0a" stroke-width="0.45">E</text>
<line x1="217.80" y1="165.20" x2="217.80" y2="267.10" stroke="#262626" stroke-width="1.25"/>
<line x1="217.80" y1="272.70" x2="217.80" y2="280.80" stroke="#262626" stroke-width="1.25"/>
<line x1="215.30" y1="270.70" x2="220.50" y2="267.90" stroke="#262626" stroke-width="0.95"/>
<line x1="215.30" y1="273.20" x2="220.50" y2="270.40" stroke="#262626" stroke-width="0.95"/>
<text transform="translate(214.80,284.10) scale(1,1.08)" font-size="8" font-weight="bold" text-anchor="end" fill="#1c1c1c" stroke="#1c1c1c" stroke-width="0.22">0</text>
<line x1="215.50" y1="259.30" x2="217.80" y2="259.30" stroke="#262626" stroke-width="1.0"/>
<text transform="translate(214.80,262.60) scale(1,1.08)" font-size="8" font-weight="bold" text-anchor="end" fill="#1c1c1c" stroke="#1c1c1c" stroke-width="0.22">1000</text>
<line x1="215.50" y1="240.48" x2="217.80" y2="240.48" stroke="#262626" stroke-width="1.0"/>
<text transform="translate(214.80,243.78) scale(1,1.08)" font-size="8" font-weight="bold" text-anchor="end" fill="#1c1c1c" stroke="#1c1c1c" stroke-width="0.22">1200</text>
<line x1="215.50" y1="221.66" x2="217.80" y2="221.66" stroke="#262626" stroke-width="1.0"/>
<text transform="translate(214.80,224.96) scale(1,1.08)" font-size="8" font-weight="bold" text-anchor="end" fill="#1c1c1c" stroke="#1c1c1c" stroke-width="0.22">1400</text>
<line x1="215.50" y1="202.84" x2="217.80" y2="202.84" stroke="#262626" stroke-width="1.0"/>
<text transform="translate(214.80,206.14) scale(1,1.08)" font-size="8" font-weight="bold" text-anchor="end" fill="#1c1c1c" stroke="#1c1c1c" stroke-width="0.22">1600</text>
<line x1="215.50" y1="184.02" x2="217.80" y2="184.02" stroke="#262626" stroke-width="1.0"/>
<text transform="translate(214.80,187.32) scale(1,1.08)" font-size="8" font-weight="bold" text-anchor="end" fill="#1c1c1c" stroke="#1c1c1c" stroke-width="0.22">1800</text>
<line x1="215.50" y1="165.20" x2="217.80" y2="165.20" stroke="#262626" stroke-width="1.0"/>
<text transform="translate(214.80,168.50) scale(1,1.08)" font-size="8" font-weight="bold" text-anchor="end" fill="#1c1c1c" stroke="#1c1c1c" stroke-width="0.22">2000</text>
<line x1="215.50" y1="280.80" x2="344.00" y2="280.80" stroke="#262626" stroke-width="1.25"/>
<line x1="233.80" y1="280.80" x2="233.80" y2="283.20" stroke="#262626" stroke-width="1.0"/>
<text transform="translate(233.80,292.10) scale(1,1.08)" font-size="8" font-weight="bold" text-anchor="middle" fill="#1c1c1c" stroke="#1c1c1c" stroke-width="0.22">0</text>
<line x1="265.70" y1="280.80" x2="265.70" y2="283.20" stroke="#262626" stroke-width="1.0"/>
<text transform="translate(265.70,292.10) scale(1,1.08)" font-size="8" font-weight="bold" text-anchor="middle" fill="#1c1c1c" stroke="#1c1c1c" stroke-width="0.22">3</text>
<line x1="296.90" y1="280.80" x2="296.90" y2="283.20" stroke="#262626" stroke-width="1.0"/>
<text transform="translate(296.90,292.10) scale(1,1.08)" font-size="8" font-weight="bold" text-anchor="middle" fill="#1c1c1c" stroke="#1c1c1c" stroke-width="0.22">7</text>
<line x1="327.80" y1="280.80" x2="327.80" y2="283.20" stroke="#262626" stroke-width="1.0"/>
<text transform="translate(327.80,292.10) scale(1,1.08)" font-size="8" font-weight="bold" text-anchor="middle" fill="#1c1c1c" stroke="#1c1c1c" stroke-width="0.22">10</text>
<text transform="translate(280.80,304.40) scale(1,1.08)" font-size="8.1" font-weight="bold" text-anchor="middle" fill="#1c1c1c" stroke="#1c1c1c" stroke-width="0.22">Days since stress exposure</text>
<text transform="translate(191.40,211.00) rotate(-90) scale(1.08,1)" font-size="8.15" font-weight="bold" text-anchor="middle" fill="#1c1c1c" stroke="#1c1c1c" stroke-width="0.22">Platelets count(× <tspan dx="1.8">10</tspan><tspan font-size="4.9" dy="-3.3" dx="0.2">9</tspan><tspan dy="3.3">/L)</tspan></text>
<line x1="223.40" y1="168.80" x2="251.60" y2="168.80" stroke="#6a6a6a" stroke-width="1.0"/>
<text transform="translate(225.80,167.00) scale(1,1.12)" font-size="8.4" font-weight="normal" text-anchor="start" fill="#1a1a1a" stroke="#1a1a1a" stroke-width="0.22">Dbh<tspan font-size="6.0" dy="-3.4" letter-spacing="0.4">-/-</tspan></text>
<line x1="223.10" y1="179.00" x2="232.10" y2="179.00" stroke="#3c3c3c" stroke-width="0.9"/>
<circle cx="227.60" cy="179.00" r="2.00" fill="#0d0d0d"/>
<text transform="translate(237.00,182.10) scale(1,1.13)" font-size="8.0" font-weight="normal" text-anchor="start" fill="#151515" stroke="#151515" stroke-width="0.22">Control</text>
<line x1="223.10" y1="190.30" x2="232.10" y2="190.30" stroke="#a24c56" stroke-width="0.9"/>
<rect x="225.75" y="188.45" width="3.70" height="3.70" fill="#8a0c16"/>
<text transform="translate(237.00,193.40) scale(1,1.13)" font-size="8.0" font-weight="normal" text-anchor="start" fill="#151515" stroke="#151515" stroke-width="0.22">Noise</text>
<line x1="223.10" y1="201.40" x2="232.10" y2="201.40" stroke="#66668e" stroke-width="0.9"/>
<polygon points="227.60,199.10 229.90,203.12 225.30,203.12" fill="#1a1aa0"/>
<text transform="translate(237.00,204.50) scale(1,1.13)" font-size="8.0" font-weight="normal" text-anchor="start" fill="#151515" stroke="#151515" stroke-width="0.22">Exercise</text>
<polyline points="233.80,239.80 265.70,243.90 296.90,238.40 327.80,235.80" fill="none" stroke="#3c3c3c" stroke-width="0.9" stroke-linejoin="round"/>
<line x1="233.80" y1="234.50" x2="233.80" y2="245.00" stroke="#4a4a4a" stroke-width="0.8"/>
<line x1="232.20" y1="234.50" x2="235.40" y2="234.50" stroke="#4a4a4a" stroke-width="0.8"/>
<line x1="232.20" y1="245.00" x2="235.40" y2="245.00" stroke="#4a4a4a" stroke-width="0.8"/>
<line x1="265.70" y1="238.50" x2="265.70" y2="248.00" stroke="#4a4a4a" stroke-width="0.8"/>
<line x1="264.10" y1="238.50" x2="267.30" y2="238.50" stroke="#4a4a4a" stroke-width="0.8"/>
<line x1="264.10" y1="248.00" x2="267.30" y2="248.00" stroke="#4a4a4a" stroke-width="0.8"/>
<line x1="296.90" y1="229.00" x2="296.90" y2="246.90" stroke="#4a4a4a" stroke-width="0.8"/>
<line x1="295.30" y1="229.00" x2="298.50" y2="229.00" stroke="#4a4a4a" stroke-width="0.8"/>
<line x1="295.30" y1="246.90" x2="298.50" y2="246.90" stroke="#4a4a4a" stroke-width="0.8"/>
<line x1="327.80" y1="230.00" x2="327.80" y2="241.00" stroke="#4a4a4a" stroke-width="0.8"/>
<line x1="326.20" y1="230.00" x2="329.40" y2="230.00" stroke="#4a4a4a" stroke-width="0.8"/>
<line x1="326.20" y1="241.00" x2="329.40" y2="241.00" stroke="#4a4a4a" stroke-width="0.8"/>
<circle cx="233.80" cy="239.80" r="2.00" fill="#0d0d0d"/>
<circle cx="265.70" cy="243.90" r="2.00" fill="#0d0d0d"/>
<circle cx="296.90" cy="238.40" r="2.00" fill="#0d0d0d"/>
<circle cx="327.80" cy="235.80" r="2.00" fill="#0d0d0d"/>
<polyline points="233.80,235.80 265.70,231.90 296.90,229.60 327.80,240.50" fill="none" stroke="#a24c56" stroke-width="0.9" stroke-linejoin="round"/>
<line x1="233.80" y1="229.60" x2="233.80" y2="241.00" stroke="#b86a74" stroke-width="0.8"/>
<line x1="232.20" y1="229.60" x2="235.40" y2="229.60" stroke="#b86a74" stroke-width="0.8"/>
<line x1="232.20" y1="241.00" x2="235.40" y2="241.00" stroke="#b86a74" stroke-width="0.8"/>
<line x1="265.70" y1="222.70" x2="265.70" y2="240.00" stroke="#b86a74" stroke-width="0.8"/>
<line x1="264.10" y1="222.70" x2="267.30" y2="222.70" stroke="#b86a74" stroke-width="0.8"/>
<line x1="264.10" y1="240.00" x2="267.30" y2="240.00" stroke="#b86a74" stroke-width="0.8"/>
<line x1="296.90" y1="220.50" x2="296.90" y2="238.00" stroke="#b86a74" stroke-width="0.8"/>
<line x1="295.30" y1="220.50" x2="298.50" y2="220.50" stroke="#b86a74" stroke-width="0.8"/>
<line x1="295.30" y1="238.00" x2="298.50" y2="238.00" stroke="#b86a74" stroke-width="0.8"/>
<line x1="327.80" y1="236.00" x2="327.80" y2="244.20" stroke="#b86a74" stroke-width="0.8"/>
<line x1="326.20" y1="236.00" x2="329.40" y2="236.00" stroke="#b86a74" stroke-width="0.8"/>
<line x1="326.20" y1="244.20" x2="329.40" y2="244.20" stroke="#b86a74" stroke-width="0.8"/>
<rect x="231.95" y="233.95" width="3.70" height="3.70" fill="#8a0c16"/>
<rect x="263.85" y="230.05" width="3.70" height="3.70" fill="#8a0c16"/>
<rect x="295.05" y="227.75" width="3.70" height="3.70" fill="#8a0c16"/>
<rect x="325.95" y="238.65" width="3.70" height="3.70" fill="#8a0c16"/>
<polyline points="233.80,239.50 265.70,233.80 296.90,229.60 327.80,234.20" fill="none" stroke="#66668e" stroke-width="0.9" stroke-linejoin="round"/>
<line x1="233.80" y1="233.00" x2="233.80" y2="246.50" stroke="#7676a8" stroke-width="0.8"/>
<line x1="232.20" y1="233.00" x2="235.40" y2="233.00" stroke="#7676a8" stroke-width="0.8"/>
<line x1="232.20" y1="246.50" x2="235.40" y2="246.50" stroke="#7676a8" stroke-width="0.8"/>
<line x1="265.70" y1="226.00" x2="265.70" y2="240.00" stroke="#7676a8" stroke-width="0.8"/>
<line x1="264.10" y1="226.00" x2="267.30" y2="226.00" stroke="#7676a8" stroke-width="0.8"/>
<line x1="264.10" y1="240.00" x2="267.30" y2="240.00" stroke="#7676a8" stroke-width="0.8"/>
<line x1="296.90" y1="219.90" x2="296.90" y2="236.00" stroke="#7676a8" stroke-width="0.8"/>
<line x1="295.30" y1="219.90" x2="298.50" y2="219.90" stroke="#7676a8" stroke-width="0.8"/>
<line x1="295.30" y1="236.00" x2="298.50" y2="236.00" stroke="#7676a8" stroke-width="0.8"/>
<line x1="327.80" y1="221.50" x2="327.80" y2="243.00" stroke="#7676a8" stroke-width="0.8"/>
<line x1="326.20" y1="221.50" x2="329.40" y2="221.50" stroke="#7676a8" stroke-width="0.8"/>
<line x1="326.20" y1="243.00" x2="329.40" y2="243.00" stroke="#7676a8" stroke-width="0.8"/>
<polygon points="233.80,237.20 236.10,241.22 231.50,241.22" fill="#1a1aa0"/>
<polygon points="265.70,231.50 268.00,235.53 263.40,235.53" fill="#1a1aa0"/>
<polygon points="296.90,227.30 299.20,231.32 294.60,231.32" fill="#1a1aa0"/>
<polygon points="327.80,231.90 330.10,235.92 325.50,235.92" fill="#1a1aa0"/>
<text transform="translate(348.40,152.90) scale(1,1.03)" font-size="11.8" font-weight="bold" text-anchor="start" fill="#0a0a0a" stroke="#0a0a0a" stroke-width="0.45">F</text>
<line x1="392.20" y1="165.70" x2="392.20" y2="266.70" stroke="#262626" stroke-width="1.25"/>
<line x1="392.20" y1="272.30" x2="392.20" y2="280.20" stroke="#262626" stroke-width="1.25"/>
<line x1="389.70" y1="270.30" x2="394.90" y2="267.50" stroke="#262626" stroke-width="0.95"/>
<line x1="389.70" y1="272.80" x2="394.90" y2="270.00" stroke="#262626" stroke-width="0.95"/>
<text transform="translate(388.80,283.50) scale(1,1.08)" font-size="8" font-weight="bold" text-anchor="end" fill="#1c1c1c" stroke="#1c1c1c" stroke-width="0.22">0</text>
<line x1="389.90" y1="258.50" x2="392.20" y2="258.50" stroke="#262626" stroke-width="1.0"/>
<text transform="translate(388.80,261.80) scale(1,1.08)" font-size="8" font-weight="bold" text-anchor="end" fill="#1c1c1c" stroke="#1c1c1c" stroke-width="0.22">1000</text>
<line x1="389.90" y1="239.94" x2="392.20" y2="239.94" stroke="#262626" stroke-width="1.0"/>
<text transform="translate(388.80,243.24) scale(1,1.08)" font-size="8" font-weight="bold" text-anchor="end" fill="#1c1c1c" stroke="#1c1c1c" stroke-width="0.22">1200</text>
<line x1="389.90" y1="221.38" x2="392.20" y2="221.38" stroke="#262626" stroke-width="1.0"/>
<text transform="translate(388.80,224.68) scale(1,1.08)" font-size="8" font-weight="bold" text-anchor="end" fill="#1c1c1c" stroke="#1c1c1c" stroke-width="0.22">1400</text>
<line x1="389.90" y1="202.82" x2="392.20" y2="202.82" stroke="#262626" stroke-width="1.0"/>
<text transform="translate(388.80,206.12) scale(1,1.08)" font-size="8" font-weight="bold" text-anchor="end" fill="#1c1c1c" stroke="#1c1c1c" stroke-width="0.22">1600</text>
<line x1="389.90" y1="184.26" x2="392.20" y2="184.26" stroke="#262626" stroke-width="1.0"/>
<text transform="translate(388.80,187.56) scale(1,1.08)" font-size="8" font-weight="bold" text-anchor="end" fill="#1c1c1c" stroke="#1c1c1c" stroke-width="0.22">1800</text>
<line x1="389.90" y1="165.70" x2="392.20" y2="165.70" stroke="#262626" stroke-width="1.0"/>
<text transform="translate(388.80,169.00) scale(1,1.08)" font-size="8" font-weight="bold" text-anchor="end" fill="#1c1c1c" stroke="#1c1c1c" stroke-width="0.22">2000</text>
<line x1="389.90" y1="280.20" x2="518.50" y2="280.20" stroke="#262626" stroke-width="1.25"/>
<line x1="408.20" y1="280.20" x2="408.20" y2="282.60" stroke="#262626" stroke-width="1.0"/>
<text transform="translate(408.20,291.50) scale(1,1.08)" font-size="8" font-weight="bold" text-anchor="middle" fill="#1c1c1c" stroke="#1c1c1c" stroke-width="0.22">0</text>
<line x1="439.20" y1="280.20" x2="439.20" y2="282.60" stroke="#262626" stroke-width="1.0"/>
<text transform="translate(439.20,291.50) scale(1,1.08)" font-size="8" font-weight="bold" text-anchor="middle" fill="#1c1c1c" stroke="#1c1c1c" stroke-width="0.22">3</text>
<line x1="470.50" y1="280.20" x2="470.50" y2="282.60" stroke="#262626" stroke-width="1.0"/>
<text transform="translate(470.50,291.50) scale(1,1.08)" font-size="8" font-weight="bold" text-anchor="middle" fill="#1c1c1c" stroke="#1c1c1c" stroke-width="0.22">7</text>
<line x1="501.60" y1="280.20" x2="501.60" y2="282.60" stroke="#262626" stroke-width="1.0"/>
<text transform="translate(501.60,291.50) scale(1,1.08)" font-size="8" font-weight="bold" text-anchor="middle" fill="#1c1c1c" stroke="#1c1c1c" stroke-width="0.22">10</text>
<text transform="translate(453.80,303.60) scale(1,1.08)" font-size="8.1" font-weight="bold" text-anchor="middle" fill="#1c1c1c" stroke="#1c1c1c" stroke-width="0.22">Days since stress exposure</text>
<text transform="translate(366.30,211.00) rotate(-90) scale(1.08,1)" font-size="8.15" font-weight="bold" text-anchor="middle" fill="#1c1c1c" stroke="#1c1c1c" stroke-width="0.22">Platelets count(× <tspan dx="1.8">10</tspan><tspan font-size="4.9" dy="-3.3" dx="0.2">9</tspan><tspan dy="3.3">/L)</tspan></text>
<line x1="394.40" y1="167.30" x2="435.80" y2="167.30" stroke="#6a6a6a" stroke-width="1.0"/>
<text transform="translate(413.70,164.40) scale(1,1.12)" font-size="8.6" font-weight="normal" text-anchor="middle" fill="#1a1a1a" stroke="#1a1a1a" stroke-width="0.22">WT</text>
<line x1="395.10" y1="171.30" x2="402.70" y2="171.30" stroke="#3c3c3c" stroke-width="0.9"/>
<circle cx="398.90" cy="171.30" r="1.70" fill="#0d0d0d"/>
<text transform="translate(408.20,174.40) scale(1,1.25)" font-size="6.75" font-weight="normal" text-anchor="start" fill="#151515" stroke="#151515" stroke-width="0.22">Control</text>
<line x1="395.10" y1="180.30" x2="402.70" y2="180.30" stroke="#a24c56" stroke-width="0.9"/>
<rect x="397.33" y="178.73" width="3.15" height="3.15" fill="#8a0c16"/>
<text transform="translate(408.20,183.40) scale(1,1.25)" font-size="6.75" font-weight="normal" text-anchor="start" fill="#151515" stroke="#151515" stroke-width="0.22">Noise</text>
<line x1="395.10" y1="190.00" x2="402.70" y2="190.00" stroke="#b8a860" stroke-width="0.9"/>
<polygon points="398.90,188.04 400.85,191.47 396.94,191.47" fill="#9a8a30"/>
<text transform="translate(408.20,193.10) scale(1,1.25)" font-size="6.75" font-weight="normal" text-anchor="start" fill="#151515" stroke="#151515" stroke-width="0.22">Noise+Phentolamine</text>
<line x1="395.10" y1="199.20" x2="402.70" y2="199.20" stroke="#58d8e6" stroke-width="0.9"/>
<polygon points="398.90,201.16 400.85,197.73 396.94,197.73" fill="#30c8d8"/>
<text transform="translate(408.20,202.30) scale(1,1.25)" font-size="6.75" font-weight="normal" text-anchor="start" fill="#151515" stroke="#151515" stroke-width="0.22">Noise+Propranolol</text>
<polyline points="408.20,242.00 439.20,242.00 470.50,234.20 501.60,236.00" fill="none" stroke="#3c3c3c" stroke-width="0.9" stroke-linejoin="round"/>
<line x1="408.20" y1="238.00" x2="408.20" y2="245.00" stroke="#4a4a4a" stroke-width="0.8"/>
<line x1="406.60" y1="238.00" x2="409.80" y2="238.00" stroke="#4a4a4a" stroke-width="0.8"/>
<line x1="406.60" y1="245.00" x2="409.80" y2="245.00" stroke="#4a4a4a" stroke-width="0.8"/>
<line x1="439.20" y1="239.00" x2="439.20" y2="244.20" stroke="#4a4a4a" stroke-width="0.8"/>
<line x1="437.60" y1="239.00" x2="440.80" y2="239.00" stroke="#4a4a4a" stroke-width="0.8"/>
<line x1="437.60" y1="244.20" x2="440.80" y2="244.20" stroke="#4a4a4a" stroke-width="0.8"/>
<line x1="470.50" y1="229.80" x2="470.50" y2="239.80" stroke="#4a4a4a" stroke-width="0.8"/>
<line x1="468.90" y1="229.80" x2="472.10" y2="229.80" stroke="#4a4a4a" stroke-width="0.8"/>
<line x1="468.90" y1="239.80" x2="472.10" y2="239.80" stroke="#4a4a4a" stroke-width="0.8"/>
<line x1="501.60" y1="231.00" x2="501.60" y2="240.00" stroke="#4a4a4a" stroke-width="0.8"/>
<line x1="500.00" y1="231.00" x2="503.20" y2="231.00" stroke="#4a4a4a" stroke-width="0.8"/>
<line x1="500.00" y1="240.00" x2="503.20" y2="240.00" stroke="#4a4a4a" stroke-width="0.8"/>
<circle cx="408.20" cy="242.00" r="2.00" fill="#0d0d0d"/>
<circle cx="439.20" cy="242.00" r="2.00" fill="#0d0d0d"/>
<circle cx="470.50" cy="234.20" r="2.00" fill="#0d0d0d"/>
<circle cx="501.60" cy="236.00" r="2.00" fill="#0d0d0d"/>
<polyline points="408.20,242.00 439.20,223.80 470.50,205.50 501.60,220.50" fill="none" stroke="#a24c56" stroke-width="0.9" stroke-linejoin="round"/>
<line x1="408.20" y1="238.00" x2="408.20" y2="246.00" stroke="#b86a74" stroke-width="0.8"/>
<line x1="406.60" y1="238.00" x2="409.80" y2="238.00" stroke="#b86a74" stroke-width="0.8"/>
<line x1="406.60" y1="246.00" x2="409.80" y2="246.00" stroke="#b86a74" stroke-width="0.8"/>
<line x1="439.20" y1="218.30" x2="439.20" y2="229.00" stroke="#b86a74" stroke-width="0.8"/>
<line x1="437.60" y1="218.30" x2="440.80" y2="218.30" stroke="#b86a74" stroke-width="0.8"/>
<line x1="437.60" y1="229.00" x2="440.80" y2="229.00" stroke="#b86a74" stroke-width="0.8"/>
<line x1="470.50" y1="202.20" x2="470.50" y2="210.00" stroke="#b86a74" stroke-width="0.8"/>
<line x1="468.90" y1="202.20" x2="472.10" y2="202.20" stroke="#b86a74" stroke-width="0.8"/>
<line x1="468.90" y1="210.00" x2="472.10" y2="210.00" stroke="#b86a74" stroke-width="0.8"/>
<line x1="501.60" y1="215.40" x2="501.60" y2="226.00" stroke="#b86a74" stroke-width="0.8"/>
<line x1="500.00" y1="215.40" x2="503.20" y2="215.40" stroke="#b86a74" stroke-width="0.8"/>
<line x1="500.00" y1="226.00" x2="503.20" y2="226.00" stroke="#b86a74" stroke-width="0.8"/>
<rect x="406.35" y="240.15" width="3.70" height="3.70" fill="#8a0c16"/>
<rect x="437.35" y="221.95" width="3.70" height="3.70" fill="#8a0c16"/>
<rect x="468.65" y="203.65" width="3.70" height="3.70" fill="#8a0c16"/>
<rect x="499.75" y="218.65" width="3.70" height="3.70" fill="#8a0c16"/>
<polyline points="408.20,243.20 439.20,235.80 470.50,228.70 501.60,233.10" fill="none" stroke="#b8a860" stroke-width="0.9" stroke-linejoin="round"/>
<line x1="408.20" y1="239.00" x2="408.20" y2="247.50" stroke="#b0a870" stroke-width="0.8"/>
<line x1="406.60" y1="239.00" x2="409.80" y2="239.00" stroke="#b0a870" stroke-width="0.8"/>
<line x1="406.60" y1="247.50" x2="409.80" y2="247.50" stroke="#b0a870" stroke-width="0.8"/>
<line x1="439.20" y1="231.00" x2="439.20" y2="240.00" stroke="#b0a870" stroke-width="0.8"/>
<line x1="437.60" y1="231.00" x2="440.80" y2="231.00" stroke="#b0a870" stroke-width="0.8"/>
<line x1="437.60" y1="240.00" x2="440.80" y2="240.00" stroke="#b0a870" stroke-width="0.8"/>
<line x1="470.50" y1="225.40" x2="470.50" y2="233.10" stroke="#b0a870" stroke-width="0.8"/>
<line x1="468.90" y1="225.40" x2="472.10" y2="225.40" stroke="#b0a870" stroke-width="0.8"/>
<line x1="468.90" y1="233.10" x2="472.10" y2="233.10" stroke="#b0a870" stroke-width="0.8"/>
<line x1="501.60" y1="228.00" x2="501.60" y2="238.00" stroke="#b0a870" stroke-width="0.8"/>
<line x1="500.00" y1="228.00" x2="503.20" y2="228.00" stroke="#b0a870" stroke-width="0.8"/>
<line x1="500.00" y1="238.00" x2="503.20" y2="238.00" stroke="#b0a870" stroke-width="0.8"/>
<polygon points="408.20,240.90 410.50,244.92 405.90,244.92" fill="#9a8a30"/>
<polygon points="439.20,233.50 441.50,237.53 436.90,237.53" fill="#9a8a30"/>
<polygon points="470.50,226.40 472.80,230.42 468.20,230.42" fill="#9a8a30"/>
<polygon points="501.60,230.80 503.90,234.82 499.30,234.82" fill="#9a8a30"/>
<polyline points="408.20,240.50 439.20,230.20 470.50,216.50 501.60,222.00" fill="none" stroke="#58d8e6" stroke-width="0.9" stroke-linejoin="round"/>
<line x1="408.20" y1="236.40" x2="408.20" y2="246.40" stroke="#70d0dc" stroke-width="0.8"/>
<line x1="406.60" y1="236.40" x2="409.80" y2="236.40" stroke="#70d0dc" stroke-width="0.8"/>
<line x1="406.60" y1="246.40" x2="409.80" y2="246.40" stroke="#70d0dc" stroke-width="0.8"/>
<line x1="439.20" y1="225.00" x2="439.20" y2="235.00" stroke="#70d0dc" stroke-width="0.8"/>
<line x1="437.60" y1="225.00" x2="440.80" y2="225.00" stroke="#70d0dc" stroke-width="0.8"/>
<line x1="437.60" y1="235.00" x2="440.80" y2="235.00" stroke="#70d0dc" stroke-width="0.8"/>
<line x1="470.50" y1="209.50" x2="470.50" y2="223.20" stroke="#70d0dc" stroke-width="0.8"/>
<line x1="468.90" y1="209.50" x2="472.10" y2="209.50" stroke="#70d0dc" stroke-width="0.8"/>
<line x1="468.90" y1="223.20" x2="472.10" y2="223.20" stroke="#70d0dc" stroke-width="0.8"/>
<line x1="501.60" y1="215.40" x2="501.60" y2="228.00" stroke="#70d0dc" stroke-width="0.8"/>
<line x1="500.00" y1="215.40" x2="503.20" y2="215.40" stroke="#70d0dc" stroke-width="0.8"/>
<line x1="500.00" y1="228.00" x2="503.20" y2="228.00" stroke="#70d0dc" stroke-width="0.8"/>
<polygon points="408.20,242.80 410.50,238.78 405.90,238.78" fill="#30c8d8"/>
<polygon points="439.20,232.50 441.50,228.47 436.90,228.47" fill="#30c8d8"/>
<polygon points="470.50,218.80 472.80,214.78 468.20,214.78" fill="#30c8d8"/>
<polygon points="501.60,224.30 503.90,220.28 499.30,220.28" fill="#30c8d8"/>
<polygon points="436.45,211.70 437.15,213.28 438.88,213.46 437.59,214.62 437.95,216.31 436.45,215.45 434.95,216.31 435.31,214.62 434.02,213.46 435.75,213.28" fill="#111"/>
<polygon points="441.75,211.70 442.45,213.28 444.18,213.46 442.89,214.62 443.25,216.31 441.75,215.45 440.25,216.31 440.61,214.62 439.32,213.46 441.05,213.28" fill="#111"/>
<polygon points="468.55,194.40 469.25,195.98 470.98,196.16 469.69,197.32 470.05,199.01 468.55,198.15 467.05,199.01 467.41,197.32 466.12,196.16 467.85,195.98" fill="#111"/>
<polygon points="473.85,194.40 474.55,195.98 476.28,196.16 474.99,197.32 475.35,199.01 473.85,198.15 472.35,199.01 472.71,197.32 471.42,196.16 473.15,195.98" fill="#111"/>
<text transform="translate(477.40,227.30) scale(1,1.08)" font-size="7.6" font-weight="normal" text-anchor="middle" fill="#333" stroke="#333" stroke-width="0.35">##</text>
<text transform="translate(1.70,323.20) scale(1,1.03)" font-size="11.8" font-weight="bold" text-anchor="start" fill="#0a0a0a" stroke="#0a0a0a" stroke-width="0.45">G</text>
<line x1="46.10" y1="329.40" x2="46.10" y2="429.30" stroke="#262626" stroke-width="1.25"/>
<line x1="46.10" y1="434.90" x2="46.10" y2="442.40" stroke="#262626" stroke-width="1.25"/>
<line x1="43.60" y1="432.90" x2="48.80" y2="430.10" stroke="#262626" stroke-width="0.95"/>
<line x1="43.60" y1="435.40" x2="48.80" y2="432.60" stroke="#262626" stroke-width="0.95"/>
<text transform="translate(42.50,445.70) scale(1,1.08)" font-size="8" font-weight="bold" text-anchor="end" fill="#1c1c1c" stroke="#1c1c1c" stroke-width="0.22">0</text>
<line x1="43.80" y1="423.20" x2="46.10" y2="423.20" stroke="#262626" stroke-width="1.0"/>
<text transform="translate(42.50,426.50) scale(1,1.08)" font-size="8" font-weight="bold" text-anchor="end" fill="#1c1c1c" stroke="#1c1c1c" stroke-width="0.22">1000</text>
<line x1="43.80" y1="404.44" x2="46.10" y2="404.44" stroke="#262626" stroke-width="1.0"/>
<text transform="translate(42.50,407.74) scale(1,1.08)" font-size="8" font-weight="bold" text-anchor="end" fill="#1c1c1c" stroke="#1c1c1c" stroke-width="0.22">1200</text>
<line x1="43.80" y1="385.68" x2="46.10" y2="385.68" stroke="#262626" stroke-width="1.0"/>
<text transform="translate(42.50,388.98) scale(1,1.08)" font-size="8" font-weight="bold" text-anchor="end" fill="#1c1c1c" stroke="#1c1c1c" stroke-width="0.22">1400</text>
<line x1="43.80" y1="366.92" x2="46.10" y2="366.92" stroke="#262626" stroke-width="1.0"/>
<text transform="translate(42.50,370.22) scale(1,1.08)" font-size="8" font-weight="bold" text-anchor="end" fill="#1c1c1c" stroke="#1c1c1c" stroke-width="0.22">1600</text>
<line x1="43.80" y1="348.16" x2="46.10" y2="348.16" stroke="#262626" stroke-width="1.0"/>
<text transform="translate(42.50,351.46) scale(1,1.08)" font-size="8" font-weight="bold" text-anchor="end" fill="#1c1c1c" stroke="#1c1c1c" stroke-width="0.22">1800</text>
<line x1="43.80" y1="329.40" x2="46.10" y2="329.40" stroke="#262626" stroke-width="1.0"/>
<text transform="translate(42.50,332.70) scale(1,1.08)" font-size="8" font-weight="bold" text-anchor="end" fill="#1c1c1c" stroke="#1c1c1c" stroke-width="0.22">2000</text>
<line x1="43.80" y1="442.40" x2="171.00" y2="442.40" stroke="#262626" stroke-width="1.25"/>
<line x1="61.80" y1="442.40" x2="61.80" y2="444.80" stroke="#262626" stroke-width="1.0"/>
<text transform="translate(61.80,453.70) scale(1,1.08)" font-size="8" font-weight="bold" text-anchor="middle" fill="#1c1c1c" stroke="#1c1c1c" stroke-width="0.22">0</text>
<line x1="93.10" y1="442.40" x2="93.10" y2="444.80" stroke="#262626" stroke-width="1.0"/>
<text transform="translate(93.10,453.70) scale(1,1.08)" font-size="8" font-weight="bold" text-anchor="middle" fill="#1c1c1c" stroke="#1c1c1c" stroke-width="0.22">3</text>
<line x1="124.40" y1="442.40" x2="124.40" y2="444.80" stroke="#262626" stroke-width="1.0"/>
<text transform="translate(124.40,453.70) scale(1,1.08)" font-size="8" font-weight="bold" text-anchor="middle" fill="#1c1c1c" stroke="#1c1c1c" stroke-width="0.22">7</text>
<line x1="156.00" y1="442.40" x2="156.00" y2="444.80" stroke="#262626" stroke-width="1.0"/>
<text transform="translate(156.00,453.70) scale(1,1.08)" font-size="8" font-weight="bold" text-anchor="middle" fill="#1c1c1c" stroke="#1c1c1c" stroke-width="0.22">10</text>
<text transform="translate(108.50,466.00) scale(1,1.08)" font-size="8.1" font-weight="bold" text-anchor="middle" fill="#1c1c1c" stroke="#1c1c1c" stroke-width="0.22">Days since stress exposure</text>
<text transform="translate(20.80,374.00) rotate(-90) scale(1.08,1)" font-size="8.15" font-weight="bold" text-anchor="middle" fill="#1c1c1c" stroke="#1c1c1c" stroke-width="0.22">Platelets count(× <tspan dx="1.8">10</tspan><tspan font-size="4.9" dy="-3.3" dx="0.2">9</tspan><tspan dy="3.3">/L)</tspan></text>
<line x1="48.80" y1="325.00" x2="87.70" y2="325.00" stroke="#6a6a6a" stroke-width="1.0"/>
<text transform="translate(65.00,322.60) scale(1,1.12)" font-size="8.6" font-weight="normal" text-anchor="middle" fill="#1a1a1a" stroke="#1a1a1a" stroke-width="0.22">WT</text>
<line x1="48.70" y1="329.50" x2="56.30" y2="329.50" stroke="#3c3c3c" stroke-width="0.9"/>
<circle cx="52.50" cy="329.50" r="1.70" fill="#0d0d0d"/>
<text transform="translate(62.30,332.60) scale(1,1.13)" font-size="7.5" font-weight="normal" text-anchor="start" fill="#151515" stroke="#151515" stroke-width="0.22">Control</text>
<line x1="48.70" y1="338.90" x2="56.30" y2="338.90" stroke="#66668e" stroke-width="0.9"/>
<rect x="50.93" y="337.33" width="3.15" height="3.15" fill="#1a1aa0"/>
<text transform="translate(62.30,342.00) scale(1,1.13)" font-size="7.5" font-weight="normal" text-anchor="start" fill="#151515" stroke="#151515" stroke-width="0.22">Exercise</text>
<line x1="48.70" y1="348.30" x2="56.30" y2="348.30" stroke="#b8a860" stroke-width="0.9"/>
<polygon points="52.50,346.35 54.45,349.77 50.55,349.77" fill="#9a8a30"/>
<text transform="translate(62.30,351.40) scale(1,1.13)" font-size="7.5" font-weight="normal" text-anchor="start" fill="#151515" stroke="#151515" stroke-width="0.22">Exercise+Phentolamine</text>
<line x1="48.70" y1="357.10" x2="56.30" y2="357.10" stroke="#58d8e6" stroke-width="0.9"/>
<polygon points="52.50,359.06 54.45,355.63 50.55,355.63" fill="#30c8d8"/>
<text transform="translate(62.30,360.20) scale(1,1.13)" font-size="7.5" font-weight="normal" text-anchor="start" fill="#151515" stroke="#151515" stroke-width="0.22">Exercise+Propranolol</text>
<polyline points="61.80,404.10 93.10,401.90 124.40,403.70 156.00,403.70" fill="none" stroke="#3c3c3c" stroke-width="0.9" stroke-linejoin="round"/>
<line x1="61.80" y1="400.00" x2="61.80" y2="408.00" stroke="#4a4a4a" stroke-width="0.8"/>
<line x1="60.20" y1="400.00" x2="63.40" y2="400.00" stroke="#4a4a4a" stroke-width="0.8"/>
<line x1="60.20" y1="408.00" x2="63.40" y2="408.00" stroke="#4a4a4a" stroke-width="0.8"/>
<line x1="93.10" y1="398.50" x2="93.10" y2="405.00" stroke="#4a4a4a" stroke-width="0.8"/>
<line x1="91.50" y1="398.50" x2="94.70" y2="398.50" stroke="#4a4a4a" stroke-width="0.8"/>
<line x1="91.50" y1="405.00" x2="94.70" y2="405.00" stroke="#4a4a4a" stroke-width="0.8"/>
<line x1="124.40" y1="400.00" x2="124.40" y2="407.50" stroke="#4a4a4a" stroke-width="0.8"/>
<line x1="122.80" y1="400.00" x2="126.00" y2="400.00" stroke="#4a4a4a" stroke-width="0.8"/>
<line x1="122.80" y1="407.50" x2="126.00" y2="407.50" stroke="#4a4a4a" stroke-width="0.8"/>
<line x1="156.00" y1="399.00" x2="156.00" y2="408.00" stroke="#4a4a4a" stroke-width="0.8"/>
<line x1="154.40" y1="399.00" x2="157.60" y2="399.00" stroke="#4a4a4a" stroke-width="0.8"/>
<line x1="154.40" y1="408.00" x2="157.60" y2="408.00" stroke="#4a4a4a" stroke-width="0.8"/>
<circle cx="61.80" cy="404.10" r="2.00" fill="#0d0d0d"/>
<circle cx="93.10" cy="401.90" r="2.00" fill="#0d0d0d"/>
<circle cx="124.40" cy="403.70" r="2.00" fill="#0d0d0d"/>
<circle cx="156.00" cy="403.70" r="2.00" fill="#0d0d0d"/>
<polyline points="61.80,403.20 93.10,393.00 124.40,369.80 156.00,377.80" fill="none" stroke="#66668e" stroke-width="0.9" stroke-linejoin="round"/>
<line x1="61.80" y1="394.80" x2="61.80" y2="411.40" stroke="#7676a8" stroke-width="0.8"/>
<line x1="60.20" y1="394.80" x2="63.40" y2="394.80" stroke="#7676a8" stroke-width="0.8"/>
<line x1="60.20" y1="411.40" x2="63.40" y2="411.40" stroke="#7676a8" stroke-width="0.8"/>
<line x1="93.10" y1="386.00" x2="93.10" y2="399.00" stroke="#7676a8" stroke-width="0.8"/>
<line x1="91.50" y1="386.00" x2="94.70" y2="386.00" stroke="#7676a8" stroke-width="0.8"/>
<line x1="91.50" y1="399.00" x2="94.70" y2="399.00" stroke="#7676a8" stroke-width="0.8"/>
<line x1="124.40" y1="361.60" x2="124.40" y2="377.10" stroke="#7676a8" stroke-width="0.8"/>
<line x1="122.80" y1="361.60" x2="126.00" y2="361.60" stroke="#7676a8" stroke-width="0.8"/>
<line x1="122.80" y1="377.10" x2="126.00" y2="377.10" stroke="#7676a8" stroke-width="0.8"/>
<line x1="156.00" y1="367.20" x2="156.00" y2="388.00" stroke="#7676a8" stroke-width="0.8"/>
<line x1="154.40" y1="367.20" x2="157.60" y2="367.20" stroke="#7676a8" stroke-width="0.8"/>
<line x1="154.40" y1="388.00" x2="157.60" y2="388.00" stroke="#7676a8" stroke-width="0.8"/>
<rect x="59.95" y="401.35" width="3.70" height="3.70" fill="#1a1aa0"/>
<rect x="91.25" y="391.15" width="3.70" height="3.70" fill="#1a1aa0"/>
<rect x="122.55" y="367.95" width="3.70" height="3.70" fill="#1a1aa0"/>
<rect x="154.15" y="375.95" width="3.70" height="3.70" fill="#1a1aa0"/>
<polyline points="61.80,406.30 93.10,401.90 124.40,396.40 156.00,397.00" fill="none" stroke="#b8a860" stroke-width="0.9" stroke-linejoin="round"/>
<line x1="61.80" y1="401.00" x2="61.80" y2="411.00" stroke="#b0a870" stroke-width="0.8"/>
<line x1="60.20" y1="401.00" x2="63.40" y2="401.00" stroke="#b0a870" stroke-width="0.8"/>
<line x1="60.20" y1="411.00" x2="63.40" y2="411.00" stroke="#b0a870" stroke-width="0.8"/>
<line x1="93.10" y1="398.00" x2="93.10" y2="406.00" stroke="#b0a870" stroke-width="0.8"/>
<line x1="91.50" y1="398.00" x2="94.70" y2="398.00" stroke="#b0a870" stroke-width="0.8"/>
<line x1="91.50" y1="406.00" x2="94.70" y2="406.00" stroke="#b0a870" stroke-width="0.8"/>
<line x1="124.40" y1="392.00" x2="124.40" y2="400.50" stroke="#b0a870" stroke-width="0.8"/>
<line x1="122.80" y1="392.00" x2="126.00" y2="392.00" stroke="#b0a870" stroke-width="0.8"/>
<line x1="122.80" y1="400.50" x2="126.00" y2="400.50" stroke="#b0a870" stroke-width="0.8"/>
<line x1="156.00" y1="393.00" x2="156.00" y2="401.00" stroke="#b0a870" stroke-width="0.8"/>
<line x1="154.40" y1="393.00" x2="157.60" y2="393.00" stroke="#b0a870" stroke-width="0.8"/>
<line x1="154.40" y1="401.00" x2="157.60" y2="401.00" stroke="#b0a870" stroke-width="0.8"/>
<polygon points="61.80,404.00 64.10,408.03 59.50,408.03" fill="#9a8a30"/>
<polygon points="93.10,399.60 95.40,403.62 90.80,403.62" fill="#9a8a30"/>
<polygon points="124.40,394.10 126.70,398.12 122.10,398.12" fill="#9a8a30"/>
<polygon points="156.00,394.70 158.30,398.73 153.70,398.73" fill="#9a8a30"/>
<polyline points="61.80,404.80 93.10,393.00 124.40,381.10 156.00,389.30" fill="none" stroke="#58d8e6" stroke-width="0.9" stroke-linejoin="round"/>
<line x1="61.80" y1="398.00" x2="61.80" y2="412.00" stroke="#70d0dc" stroke-width="0.8"/>
<line x1="60.20" y1="398.00" x2="63.40" y2="398.00" stroke="#70d0dc" stroke-width="0.8"/>
<line x1="60.20" y1="412.00" x2="63.40" y2="412.00" stroke="#70d0dc" stroke-width="0.8"/>
<line x1="93.10" y1="387.00" x2="93.10" y2="399.00" stroke="#70d0dc" stroke-width="0.8"/>
<line x1="91.50" y1="387.00" x2="94.70" y2="387.00" stroke="#70d0dc" stroke-width="0.8"/>
<line x1="91.50" y1="399.00" x2="94.70" y2="399.00" stroke="#70d0dc" stroke-width="0.8"/>
<line x1="124.40" y1="375.00" x2="124.40" y2="387.00" stroke="#70d0dc" stroke-width="0.8"/>
<line x1="122.80" y1="375.00" x2="126.00" y2="375.00" stroke="#70d0dc" stroke-width="0.8"/>
<line x1="122.80" y1="387.00" x2="126.00" y2="387.00" stroke="#70d0dc" stroke-width="0.8"/>
<line x1="156.00" y1="383.00" x2="156.00" y2="395.00" stroke="#70d0dc" stroke-width="0.8"/>
<line x1="154.40" y1="383.00" x2="157.60" y2="383.00" stroke="#70d0dc" stroke-width="0.8"/>
<line x1="154.40" y1="395.00" x2="157.60" y2="395.00" stroke="#70d0dc" stroke-width="0.8"/>
<polygon points="61.80,407.10 64.10,403.07 59.50,403.07" fill="#30c8d8"/>
<polygon points="93.10,395.30 95.40,391.27 90.80,391.27" fill="#30c8d8"/>
<polygon points="124.40,383.40 126.70,379.38 122.10,379.38" fill="#30c8d8"/>
<polygon points="156.00,391.60 158.30,387.57 153.70,387.57" fill="#30c8d8"/>
<polygon points="128.55,363.90 129.25,365.48 130.98,365.66 129.69,366.82 130.05,368.51 128.55,367.65 127.05,368.51 127.41,366.82 126.12,365.66 127.85,365.48" fill="#111"/>
<polygon points="133.85,363.90 134.55,365.48 136.28,365.66 134.99,366.82 135.35,368.51 133.85,367.65 132.35,368.51 132.71,366.82 131.42,365.66 133.15,365.48" fill="#111"/>
<polygon points="156.10,361.20 156.80,362.78 158.53,362.96 157.24,364.12 157.60,365.81 156.10,364.95 154.60,365.81 154.96,364.12 153.67,362.96 155.40,362.78" fill="#111"/>
<text transform="translate(125.00,392.40) scale(1,1.08)" font-size="7.6" font-weight="normal" text-anchor="middle" fill="#333" stroke="#333" stroke-width="0.35">##</text>
<text transform="translate(172.50,323.20) scale(1,1.03)" font-size="11.8" font-weight="bold" text-anchor="start" fill="#0a0a0a" stroke="#0a0a0a" stroke-width="0.45">H</text>
<line x1="219.00" y1="328.90" x2="219.00" y2="441.70" stroke="#262626" stroke-width="1.25"/>
<line x1="216.70" y1="419.62" x2="219.00" y2="419.62" stroke="#262626" stroke-width="1.0"/>
<text transform="translate(213.50,422.92) scale(1,1.08)" font-size="8" font-weight="bold" text-anchor="end" fill="#1c1c1c" stroke="#1c1c1c" stroke-width="0.22">100</text>
<line x1="216.70" y1="396.94" x2="219.00" y2="396.94" stroke="#262626" stroke-width="1.0"/>
<text transform="translate(213.50,400.24) scale(1,1.08)" font-size="8" font-weight="bold" text-anchor="end" fill="#1c1c1c" stroke="#1c1c1c" stroke-width="0.22">200</text>
<line x1="216.70" y1="374.26" x2="219.00" y2="374.26" stroke="#262626" stroke-width="1.0"/>
<text transform="translate(213.50,377.56) scale(1,1.08)" font-size="8" font-weight="bold" text-anchor="end" fill="#1c1c1c" stroke="#1c1c1c" stroke-width="0.22">300</text>
<line x1="216.70" y1="351.58" x2="219.00" y2="351.58" stroke="#262626" stroke-width="1.0"/>
<text transform="translate(213.50,354.88) scale(1,1.08)" font-size="8" font-weight="bold" text-anchor="end" fill="#1c1c1c" stroke="#1c1c1c" stroke-width="0.22">400</text>
<line x1="216.70" y1="328.90" x2="219.00" y2="328.90" stroke="#262626" stroke-width="1.0"/>
<text transform="translate(213.50,332.20) scale(1,1.08)" font-size="8" font-weight="bold" text-anchor="end" fill="#1c1c1c" stroke="#1c1c1c" stroke-width="0.22">500</text>
<text transform="translate(213.50,444.70) scale(1,1.08)" font-size="8" font-weight="bold" text-anchor="end" fill="#1c1c1c" stroke="#1c1c1c" stroke-width="0.22">0</text>
<line x1="216.70" y1="441.70" x2="343.00" y2="441.70" stroke="#262626" stroke-width="1.25"/>
<line x1="235.00" y1="441.70" x2="235.00" y2="444.10" stroke="#262626" stroke-width="1.0"/>
<text transform="translate(235.00,453.00) scale(1,1.08)" font-size="8" font-weight="bold" text-anchor="middle" fill="#1c1c1c" stroke="#1c1c1c" stroke-width="0.22">0</text>
<line x1="265.90" y1="441.70" x2="265.90" y2="444.10" stroke="#262626" stroke-width="1.0"/>
<text transform="translate(265.90,453.00) scale(1,1.08)" font-size="8" font-weight="bold" text-anchor="middle" fill="#1c1c1c" stroke="#1c1c1c" stroke-width="0.22">3</text>
<line x1="296.90" y1="441.70" x2="296.90" y2="444.10" stroke="#262626" stroke-width="1.0"/>
<text transform="translate(296.90,453.00) scale(1,1.08)" font-size="8" font-weight="bold" text-anchor="middle" fill="#1c1c1c" stroke="#1c1c1c" stroke-width="0.22">7</text>
<line x1="328.30" y1="441.70" x2="328.30" y2="444.10" stroke="#262626" stroke-width="1.0"/>
<text transform="translate(328.30,453.00) scale(1,1.08)" font-size="8" font-weight="bold" text-anchor="middle" fill="#1c1c1c" stroke="#1c1c1c" stroke-width="0.22">10</text>
<text transform="translate(280.80,465.20) scale(1,1.08)" font-size="8.1" font-weight="bold" text-anchor="middle" fill="#1c1c1c" stroke="#1c1c1c" stroke-width="0.22">Days since stress exposure</text>
<text transform="translate(192.80,383.20) rotate(-90) scale(1.08,1)" font-size="8.15" font-weight="bold" text-anchor="middle" fill="#1c1c1c" stroke="#1c1c1c" stroke-width="0.22">Platelets count(× <tspan dx="1.8">10</tspan><tspan font-size="4.9" dy="-3.3" dx="0.2">9</tspan><tspan dy="3.3">/L)</tspan></text>
<line x1="222.80" y1="339.40" x2="302.60" y2="339.40" stroke="#6a6a6a" stroke-width="1.0"/>
<text transform="translate(223.60,337.40) scale(1,1.12)" font-size="8.7" font-weight="normal" text-anchor="start" fill="#1a1a1a" stroke="#1a1a1a" stroke-width="0.22">C57BL/6J-Mpl<tspan font-size="6.0" dy="-3.6">hlb219</tspan><tspan dy="3.6" dx="0.4">/J</tspan></text>
<line x1="222.20" y1="350.60" x2="231.20" y2="350.60" stroke="#3c3c3c" stroke-width="0.9"/>
<circle cx="226.70" cy="350.60" r="2.00" fill="#0d0d0d"/>
<text transform="translate(236.10,353.70) scale(1,1.13)" font-size="7.8" font-weight="normal" text-anchor="start" fill="#151515" stroke="#151515" stroke-width="0.22">Control</text>
<line x1="222.20" y1="361.80" x2="231.20" y2="361.80" stroke="#a24c56" stroke-width="0.9"/>
<rect x="224.85" y="359.95" width="3.70" height="3.70" fill="#8a0c16"/>
<text transform="translate(236.10,364.90) scale(1,1.13)" font-size="7.8" font-weight="normal" text-anchor="start" fill="#151515" stroke="#151515" stroke-width="0.22">Noise</text>
<line x1="222.20" y1="373.80" x2="231.20" y2="373.80" stroke="#66668e" stroke-width="0.9"/>
<polygon points="226.70,371.50 229.00,375.53 224.40,375.53" fill="#1a1aa0"/>
<text transform="translate(236.10,376.90) scale(1,1.13)" font-size="7.8" font-weight="normal" text-anchor="start" fill="#151515" stroke="#151515" stroke-width="0.22">Exercise</text>
<polyline points="235.00,405.20 265.90,408.60 296.90,405.20 328.30,403.50" fill="none" stroke="#3c3c3c" stroke-width="0.9" stroke-linejoin="round"/>
<line x1="235.00" y1="401.00" x2="235.00" y2="409.00" stroke="#4a4a4a" stroke-width="0.8"/>
<line x1="233.40" y1="401.00" x2="236.60" y2="401.00" stroke="#4a4a4a" stroke-width="0.8"/>
<line x1="233.40" y1="409.00" x2="236.60" y2="409.00" stroke="#4a4a4a" stroke-width="0.8"/>
<line x1="265.90" y1="404.10" x2="265.90" y2="411.90" stroke="#4a4a4a" stroke-width="0.8"/>
<line x1="264.30" y1="404.10" x2="267.50" y2="404.10" stroke="#4a4a4a" stroke-width="0.8"/>
<line x1="264.30" y1="411.90" x2="267.50" y2="411.90" stroke="#4a4a4a" stroke-width="0.8"/>
<line x1="296.90" y1="403.00" x2="296.90" y2="407.40" stroke="#4a4a4a" stroke-width="0.8"/>
<line x1="295.30" y1="403.00" x2="298.50" y2="403.00" stroke="#4a4a4a" stroke-width="0.8"/>
<line x1="295.30" y1="407.40" x2="298.50" y2="407.40" stroke="#4a4a4a" stroke-width="0.8"/>
<line x1="328.30" y1="399.70" x2="328.30" y2="406.30" stroke="#4a4a4a" stroke-width="0.8"/>
<line x1="326.70" y1="399.70" x2="329.90" y2="399.70" stroke="#4a4a4a" stroke-width="0.8"/>
<line x1="326.70" y1="406.30" x2="329.90" y2="406.30" stroke="#4a4a4a" stroke-width="0.8"/>
<circle cx="235.00" cy="405.20" r="2.00" fill="#0d0d0d"/>
<circle cx="265.90" cy="408.60" r="2.00" fill="#0d0d0d"/>
<circle cx="296.90" cy="405.20" r="2.00" fill="#0d0d0d"/>
<circle cx="328.30" cy="403.50" r="2.00" fill="#0d0d0d"/>
<polyline points="235.00,401.50 265.90,390.90 296.90,369.90 328.30,375.40" fill="none" stroke="#a24c56" stroke-width="0.9" stroke-linejoin="round"/>
<line x1="235.00" y1="397.00" x2="235.00" y2="406.00" stroke="#b86a74" stroke-width="0.8"/>
<line x1="233.40" y1="397.00" x2="236.60" y2="397.00" stroke="#b86a74" stroke-width="0.8"/>
<line x1="233.40" y1="406.00" x2="236.60" y2="406.00" stroke="#b86a74" stroke-width="0.8"/>
<line x1="265.90" y1="379.80" x2="265.90" y2="397.00" stroke="#b86a74" stroke-width="0.8"/>
<line x1="264.30" y1="379.80" x2="267.50" y2="379.80" stroke="#b86a74" stroke-width="0.8"/>
<line x1="264.30" y1="397.00" x2="267.50" y2="397.00" stroke="#b86a74" stroke-width="0.8"/>
<line x1="296.90" y1="362.10" x2="296.90" y2="378.00" stroke="#b86a74" stroke-width="0.8"/>
<line x1="295.30" y1="362.10" x2="298.50" y2="362.10" stroke="#b86a74" stroke-width="0.8"/>
<line x1="295.30" y1="378.00" x2="298.50" y2="378.00" stroke="#b86a74" stroke-width="0.8"/>
<line x1="328.30" y1="361.00" x2="328.30" y2="388.00" stroke="#b86a74" stroke-width="0.8"/>
<line x1="326.70" y1="361.00" x2="329.90" y2="361.00" stroke="#b86a74" stroke-width="0.8"/>
<line x1="326.70" y1="388.00" x2="329.90" y2="388.00" stroke="#b86a74" stroke-width="0.8"/>
<rect x="233.15" y="399.65" width="3.70" height="3.70" fill="#8a0c16"/>
<rect x="264.05" y="389.05" width="3.70" height="3.70" fill="#8a0c16"/>
<rect x="295.05" y="368.05" width="3.70" height="3.70" fill="#8a0c16"/>
<rect x="326.45" y="373.55" width="3.70" height="3.70" fill="#8a0c16"/>
<polyline points="235.00,404.60 265.90,399.70 296.90,372.70 328.30,379.10" fill="none" stroke="#66668e" stroke-width="0.9" stroke-linejoin="round"/>
<line x1="235.00" y1="400.00" x2="235.00" y2="408.60" stroke="#7676a8" stroke-width="0.8"/>
<line x1="233.40" y1="400.00" x2="236.60" y2="400.00" stroke="#7676a8" stroke-width="0.8"/>
<line x1="233.40" y1="408.60" x2="236.60" y2="408.60" stroke="#7676a8" stroke-width="0.8"/>
<line x1="265.90" y1="394.00" x2="265.90" y2="404.00" stroke="#7676a8" stroke-width="0.8"/>
<line x1="264.30" y1="394.00" x2="267.50" y2="394.00" stroke="#7676a8" stroke-width="0.8"/>
<line x1="264.30" y1="404.00" x2="267.50" y2="404.00" stroke="#7676a8" stroke-width="0.8"/>
<line x1="296.90" y1="364.00" x2="296.90" y2="382.00" stroke="#7676a8" stroke-width="0.8"/>
<line x1="295.30" y1="364.00" x2="298.50" y2="364.00" stroke="#7676a8" stroke-width="0.8"/>
<line x1="295.30" y1="382.00" x2="298.50" y2="382.00" stroke="#7676a8" stroke-width="0.8"/>
<line x1="328.30" y1="368.00" x2="328.30" y2="391.30" stroke="#7676a8" stroke-width="0.8"/>
<line x1="326.70" y1="368.00" x2="329.90" y2="368.00" stroke="#7676a8" stroke-width="0.8"/>
<line x1="326.70" y1="391.30" x2="329.90" y2="391.30" stroke="#7676a8" stroke-width="0.8"/>
<polygon points="235.00,402.30 237.30,406.33 232.70,406.33" fill="#1a1aa0"/>
<polygon points="265.90,397.40 268.20,401.43 263.60,401.43" fill="#1a1aa0"/>
<polygon points="296.90,370.40 299.20,374.43 294.60,374.43" fill="#1a1aa0"/>
<polygon points="328.30,376.80 330.60,380.83 326.00,380.83" fill="#1a1aa0"/>
<polygon points="267.70,374.30 268.40,375.88 270.13,376.06 268.84,377.22 269.20,378.91 267.70,378.05 266.20,378.91 266.56,377.22 265.27,376.06 267.00,375.88" fill="#111"/>
<polygon points="294.25,350.00 294.95,351.58 296.68,351.76 295.39,352.92 295.75,354.61 294.25,353.75 292.75,354.61 293.11,352.92 291.82,351.76 293.55,351.58" fill="#111"/>
<polygon points="299.55,350.00 300.25,351.58 301.98,351.76 300.69,352.92 301.05,354.61 299.55,353.75 298.05,354.61 298.41,352.92 297.12,351.76 298.85,351.58" fill="#111"/>
<polygon points="296.90,387.60 297.60,389.18 299.33,389.36 298.04,390.52 298.40,392.21 296.90,391.35 295.40,392.21 295.76,390.52 294.47,389.36 296.20,389.18" fill="#111"/>
<polygon points="327.40,353.70 328.10,355.28 329.83,355.46 328.54,356.62 328.90,358.31 327.40,357.45 325.90,358.31 326.26,356.62 324.97,355.46 326.70,355.28" fill="#111"/>
<text transform="translate(348.40,323.20) scale(1,1.03)" font-size="11.8" font-weight="bold" text-anchor="start" fill="#0a0a0a" stroke="#0a0a0a" stroke-width="0.45">I</text>
<line x1="390.70" y1="346.40" x2="390.70" y2="441.00" stroke="#262626" stroke-width="1.1"/>
<line x1="388.40" y1="441.00" x2="390.70" y2="441.00" stroke="#262626" stroke-width="1.0"/>
<text transform="translate(386.80,444.00) scale(1,1.08)" font-size="8" font-weight="bold" text-anchor="end" fill="#1c1c1c" stroke="#1c1c1c" stroke-width="0.22">0</text>
<line x1="388.40" y1="417.35" x2="390.70" y2="417.35" stroke="#262626" stroke-width="1.0"/>
<text transform="translate(386.80,420.35) scale(1,1.08)" font-size="8" font-weight="bold" text-anchor="end" fill="#1c1c1c" stroke="#1c1c1c" stroke-width="0.22">1</text>
<line x1="388.40" y1="393.70" x2="390.70" y2="393.70" stroke="#262626" stroke-width="1.0"/>
<text transform="translate(386.80,396.70) scale(1,1.08)" font-size="8" font-weight="bold" text-anchor="end" fill="#1c1c1c" stroke="#1c1c1c" stroke-width="0.22">2</text>
<line x1="388.40" y1="370.05" x2="390.70" y2="370.05" stroke="#262626" stroke-width="1.0"/>
<text transform="translate(386.80,373.05) scale(1,1.08)" font-size="8" font-weight="bold" text-anchor="end" fill="#1c1c1c" stroke="#1c1c1c" stroke-width="0.22">3</text>
<line x1="388.40" y1="346.40" x2="390.70" y2="346.40" stroke="#262626" stroke-width="1.0"/>
<text transform="translate(386.80,349.40) scale(1,1.08)" font-size="8" font-weight="bold" text-anchor="end" fill="#1c1c1c" stroke="#1c1c1c" stroke-width="0.22">4</text>
<line x1="388.40" y1="441.00" x2="513.50" y2="441.00" stroke="#262626" stroke-width="1.25"/>
<line x1="422.40" y1="441.00" x2="422.40" y2="443.40" stroke="#262626" stroke-width="1.0"/>
<line x1="485.20" y1="441.00" x2="485.20" y2="443.40" stroke="#262626" stroke-width="1.0"/>
<text transform="translate(369.70,392.60) rotate(-90) scale(1.08,1)" font-size="8.35" font-weight="bold" text-anchor="middle" fill="#1c1c1c" stroke="#1c1c1c" stroke-width="0.22">Fold Increase of</text>
<text transform="translate(378.80,392.60) rotate(-90) scale(1.08,1)" font-size="8.3" font-weight="bold" text-anchor="middle" fill="#1c1c1c" stroke="#1c1c1c" stroke-width="0.22">platelets at day 7</text>
<rect x="396.70" y="348.50" width="9.80" height="7.20" fill="#fb7a3c" stroke="none" stroke-width="0"/>
<rect x="396.70" y="362.30" width="9.80" height="7.50" fill="#14b870" stroke="none" stroke-width="0"/>
<text transform="translate(410.60,355.60) scale(1,1.1)" font-size="8.0" font-weight="normal" text-anchor="start" fill="#151515" stroke="#151515" stroke-width="0.22">WT</text>
<text transform="translate(410.60,369.30) scale(1,1.1)" font-size="8.2" font-weight="normal" text-anchor="start" fill="#151515" stroke="#151515" stroke-width="0.22">C57BL/6J-Mplhlb219/J</text>
<line x1="410.45" y1="405.05" x2="410.45" y2="409.07" stroke="#fb7a3c" stroke-width="1.4"/>
<line x1="406.25" y1="405.05" x2="414.65" y2="405.05" stroke="#fb7a3c" stroke-width="1.5"/>
<rect x="402.20" y="409.07" width="16.50" height="31.93" fill="#fb7a3c" stroke="none" stroke-width="0"/>
<line x1="434.30" y1="388.02" x2="434.30" y2="393.70" stroke="#14b870" stroke-width="1.4"/>
<line x1="430.10" y1="388.02" x2="438.50" y2="388.02" stroke="#14b870" stroke-width="1.5"/>
<rect x="426.20" y="393.70" width="16.20" height="47.30" fill="#14b870" stroke="none" stroke-width="0"/>
<line x1="473.20" y1="407.65" x2="473.20" y2="410.73" stroke="#fb7a3c" stroke-width="1.4"/>
<line x1="469.00" y1="407.65" x2="477.40" y2="407.65" stroke="#fb7a3c" stroke-width="1.5"/>
<rect x="464.80" y="410.73" width="16.80" height="30.27" fill="#fb7a3c" stroke="none" stroke-width="0"/>
<line x1="497.25" y1="388.73" x2="497.25" y2="392.04" stroke="#14b870" stroke-width="1.4"/>
<line x1="493.05" y1="388.73" x2="501.45" y2="388.73" stroke="#14b870" stroke-width="1.5"/>
<rect x="488.90" y="392.04" width="16.70" height="48.96" fill="#14b870" stroke="none" stroke-width="0"/>
<text transform="translate(422.60,453.50) scale(1,1.08)" font-size="8.0" font-weight="bold" text-anchor="middle" fill="#1c1c1c" stroke="#1c1c1c" stroke-width="0.22">Noise</text>
<text transform="translate(483.20,453.50) scale(1,1.08)" font-size="8.0" font-weight="bold" text-anchor="middle" fill="#1c1c1c" stroke="#1c1c1c" stroke-width="0.22">Exercise</text>
<polygon points="434.60,377.20 437.54,382.38 431.66,382.38" fill="#111"/>
<polygon points="493.40,378.80 496.34,383.98 490.46,383.98" fill="#111"/>
<polygon points="501.50,378.80 504.44,383.98 498.56,383.98" fill="#111"/>
</g>
</svg></body></html>
